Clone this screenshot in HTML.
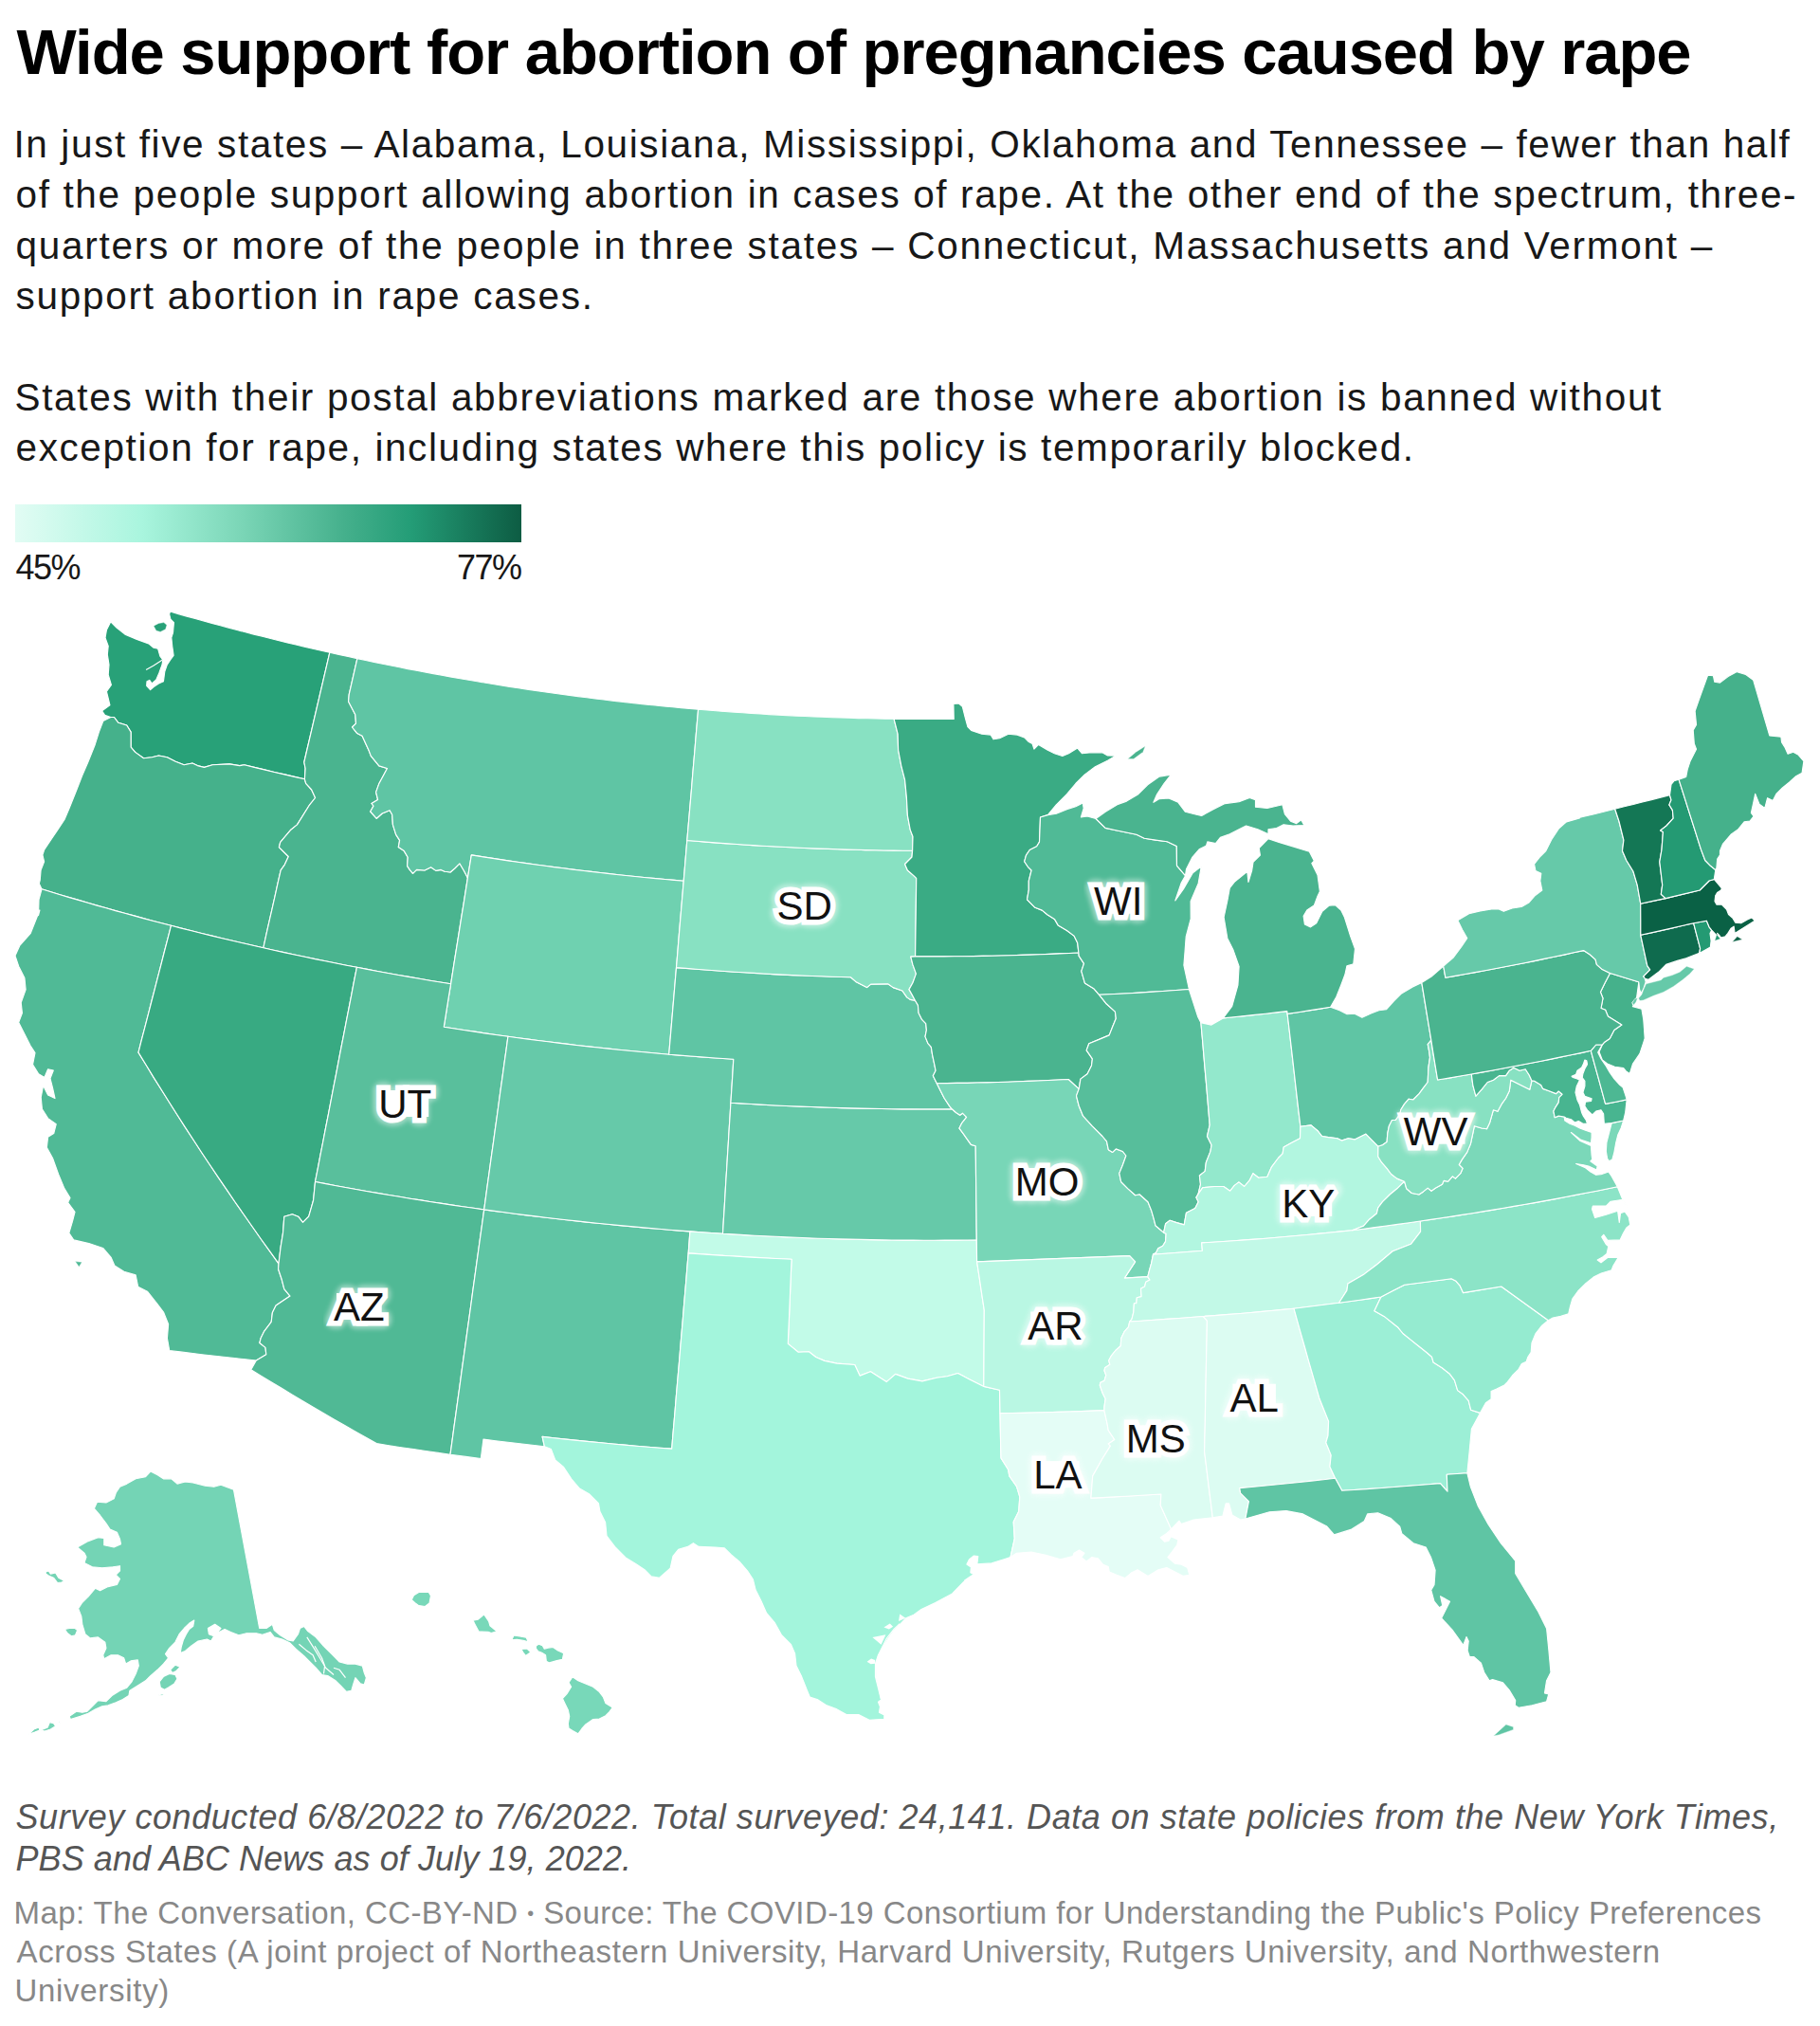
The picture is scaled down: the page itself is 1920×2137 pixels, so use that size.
<!DOCTYPE html>
<html lang="en"><head><meta charset="utf-8"><title>Wide support for abortion of pregnancies caused by rape</title>
<style>
html,body{margin:0;padding:0;background:#fff;}
body{width:1920px;height:2137px;position:relative;overflow:hidden;font-family:"Liberation Sans",Arial,sans-serif;color:#181818;}
.ln{position:absolute;left:16px;white-space:nowrap;margin:0;padding:0;font-weight:normal;}
.t{font-weight:bold;color:#000;}
.d{color:#181818;}
.l{color:#181818;}
.n{font-style:italic;color:#555;}
.f{color:#888;}

.lg{position:absolute;left:16px;top:532px;width:534px;height:40px;background:linear-gradient(90deg,#e2fcf4 0%,#a9f5de 25%,#7ad5b6 45%,#45b08c 65%,#249d77 78%,#0d5c43 100%);}
#map{position:absolute;left:0;top:0;}
.lab{font-family:"Liberation Sans",Arial,sans-serif;font-size:42px;fill:#111;text-anchor:middle;}
.halo{stroke:#fff;stroke-width:11px;stroke-linejoin:miter;stroke-miterlimit:2;fill:#fff;}
.glow{stroke:#fff;stroke-width:17px;stroke-linejoin:round;fill:#fff;opacity:.45;}
</style></head><body>
<h1 class="ln t" id="t" style="top:14.9px;left:17.5px;font-size:67px;line-height:80px;letter-spacing:-1.046px">Wide support for abortion of pregnancies caused by rape</h1>
<p class="ln d" id="d1" style="top:127.9px;left:14.5px;font-size:40.5px;line-height:49px;letter-spacing:1.615px">In just five states – Alabama, Louisiana, Mississippi, Oklahoma and Tennessee – fewer than half</p>
<p class="ln d" id="d2" style="top:181.3px;left:16.5px;font-size:40.5px;line-height:49px;letter-spacing:1.629px">of the people support allowing abortion in cases of rape. At the other end of the spectrum, three-</p>
<p class="ln d" id="d3" style="top:234.7px;left:16.5px;font-size:40.5px;line-height:49px;letter-spacing:1.739px">quarters or more of the people in three states – Connecticut, Massachusetts and Vermont –</p>
<p class="ln d" id="d4" style="top:288.1px;left:16.5px;font-size:40.5px;line-height:49px;letter-spacing:1.750px">support abortion in rape cases.</p>
<p class="ln d" id="d5" style="top:394.9px;left:15.5px;font-size:40.5px;line-height:49px;letter-spacing:1.669px">States with their postal abbreviations marked are those where abortion is banned without</p>
<p class="ln d" id="d6" style="top:448.3px;left:16.5px;font-size:40.5px;line-height:49px;letter-spacing:1.609px">exception for rape, including states where this policy is temporarily blocked.</p>
<span class="ln l" id="l1" style="top:576.7px;left:16.5px;font-size:36px;line-height:43px;letter-spacing:-1.500px">45%</span>
<span class="ln l" id="l2" style="top:576.7px;left:482.0px;font-size:36px;line-height:43px;letter-spacing:-1.500px">77%</span>
<div class="lg"></div>
<svg id="map" width="1920" height="2137" viewBox="0 0 1920 2137">
<g stroke="#fff" stroke-width="1.15" stroke-linejoin="round">
<path id="WA" fill="#28a178" d="M116.8,756.5L110.6,754.4L107.6,749.9L115.9,743.7L114.2,736.6L112.4,729.5L117.4,722.4L114.2,711.7L115.0,701.1L113.3,690.4L114.2,681.5L111.0,672.6L112.4,664.6L116.8,655.8L123.0,662.0L131.9,669.1L144.4,674.4L156.8,678.9L162.1,683.3L166.6,684.2L168.9,692.2L171.9,696.1L171.0,701.1L167.8,709.9L164.8,717.0L160.3,721.0L157.7,717.4L155.0,718.8L154.7,723.3L158.6,727.7L162.1,724.5L167.4,721.0L172.4,718.8L173.8,708.2L176.3,701.1L179.9,695.7L183.1,691.3L181.7,681.5L180.8,672.6L182.5,667.3L183.4,656.6L179.9,653.1L178.6,647.8L179.5,645.0L188.3,647.6L197.1,650.1L205.9,652.5L214.8,655.0L223.6,657.4L232.4,659.8L241.2,662.1L250.1,664.5L258.9,666.8L267.8,669.1L276.7,671.3L285.5,673.5L294.4,675.7L303.3,677.9L312.2,680.0L321.1,682.1L330.0,684.2L338.9,686.2L347.8,688.3L320.8,804.0L322.1,810.5L321.4,821.8L310.7,819.4L300.1,816.9L289.5,814.5L278.9,811.9L268.3,809.4L257.7,806.8L252.7,807.6L242.1,805.9L224.3,806.8L215.4,809.4L208.3,807.6L203.0,805.0L194.1,806.8L185.2,803.2L176.3,798.8L167.4,797.0L160.3,798.8L151.5,799.7L142.6,793.4L138.1,788.1L138.1,772.1L133.7,765.0L124.8,762.3L120.4,756.5L116.8,756.5Z"/>
<path id="OR" fill="#45b18b" d="M116.8,756.5L120.4,756.5L124.8,762.3L133.7,765.0L138.1,772.1L138.1,788.1L142.6,793.4L151.5,799.7L160.3,798.8L167.4,797.0L176.3,798.8L185.2,803.2L194.1,806.8L203.0,805.0L208.3,807.6L215.4,809.4L224.3,806.8L242.1,805.9L252.7,807.6L257.7,806.8L268.3,809.4L278.9,811.9L289.5,814.5L300.1,816.9L310.7,819.4L321.4,821.8L322.7,826.4L328.7,833.0L332.6,841.5L326.7,848.8L313.5,869.9L306.9,875.2L295.7,888.4L294.4,893.6L304.3,903.5L300.3,912.1L296.2,917.8L293.1,931.4L290.1,945.1L287.0,958.8L283.9,972.4L280.8,986.1L277.8,999.8L266.9,997.3L256.1,994.8L245.3,992.3L234.4,989.7L223.6,987.1L212.8,984.5L202.1,981.8L191.3,979.1L180.5,976.3L170.7,973.7L160.9,971.2L151.1,968.6L141.3,965.9L131.6,963.3L121.8,960.6L112.0,957.8L102.3,955.1L92.6,952.3L82.8,949.4L73.1,946.6L63.4,943.7L53.7,940.8L44.0,937.8L41.3,932.0L42.2,928.4L43.1,917.8L46.6,908.9L44.9,901.8L46.6,896.5L53.8,885.8L60.9,875.2L68.0,864.5L73.3,852.1L80.4,834.3L86.6,818.3L92.8,804.1L99.9,786.3L104.4,772.1L108.8,760.6L116.8,756.5Z"/>
<path id="ID" fill="#4ab48f" d="M321.4,821.8L322.1,810.5L320.8,804.0L347.8,688.3L357.5,690.4L367.2,692.5L376.9,694.6L368.2,732.7L367.6,740.0L374.8,753.8L375.5,763.1L371.5,767.0L376.8,773.6L382.1,776.3L389.3,792.1L391.3,797.4L399.9,807.9L408.5,810.5L399.9,826.4L396.6,835.6L398.6,843.5L392.0,847.5L394.0,850.1L390.7,856.0L397.3,863.3L403.2,858.0L411.1,854.7L413.7,859.3L414.4,869.9L417.7,880.4L421.6,886.4L420.3,893.6L426.3,897.6L430.2,904.2L429.6,913.4L432.2,917.4L435.5,921.3L439.5,917.4L448.0,918.0L454.6,914.7L459.9,918.4L465.2,917.4L469.1,919.3L475.1,920.0L479.7,916.0L484.9,910.8L489.6,918.7L493.4,925.9L491.2,939.8L489.0,953.8L486.7,967.8L484.5,981.8L482.3,995.7L480.0,1009.8L477.8,1023.8L475.6,1037.8L464.5,1036.0L453.5,1034.2L442.4,1032.3L431.4,1030.4L420.4,1028.5L409.4,1026.5L398.4,1024.5L387.4,1022.4L376.4,1020.3L365.4,1018.2L354.4,1016.0L343.4,1013.8L332.5,1011.6L321.5,1009.3L310.6,1007.0L299.6,1004.6L288.7,1002.2L277.8,999.8L280.8,986.1L283.9,972.4L287.0,958.8L290.1,945.1L293.1,931.4L296.2,917.8L300.3,912.1L304.3,903.5L294.4,893.6L295.7,888.4L306.9,875.2L313.5,869.9L326.7,848.8L332.6,841.5L328.7,833.0L322.7,826.4L321.4,821.8Z"/>
<path id="MT" fill="#5fc5a4" d="M376.9,694.6L385.8,696.5L394.7,698.4L403.6,700.2L412.5,702.0L421.4,703.8L430.3,705.6L439.3,707.3L448.2,709.0L457.2,710.6L466.1,712.3L475.1,713.9L484.0,715.5L493.0,717.0L502.0,718.5L510.9,720.0L519.9,721.5L528.9,722.9L537.9,724.4L546.9,725.7L555.9,727.1L564.9,728.4L573.9,729.7L582.9,731.0L591.9,732.2L600.9,733.4L609.9,734.6L619.0,735.8L628.0,736.9L637.0,738.0L646.1,739.1L655.1,740.1L664.1,741.1L673.2,742.1L682.2,743.1L691.3,744.0L700.3,744.9L709.4,745.8L718.5,746.6L727.5,747.4L736.6,748.2L735.4,762.0L734.2,775.7L733.1,789.5L731.9,803.3L730.7,817.2L729.6,831.0L728.4,844.9L727.2,858.7L726.0,872.6L724.8,886.5L723.6,900.7L722.4,915.0L721.2,929.3L711.4,928.4L701.7,927.5L691.9,926.6L682.1,925.7L672.4,924.7L662.6,923.7L652.8,922.7L643.1,921.6L633.3,920.5L623.6,919.4L613.9,918.2L604.1,917.1L594.4,915.8L584.6,914.6L574.9,913.3L565.2,912.0L555.5,910.6L545.8,909.3L536.0,907.9L526.3,906.4L516.6,904.9L506.9,903.4L497.3,901.9L493.4,925.9L489.6,918.7L484.9,910.8L479.7,916.0L475.1,920.0L469.1,919.3L465.2,917.4L459.9,918.4L454.6,914.7L448.0,918.0L439.5,917.4L435.5,921.3L432.2,917.4L429.6,913.4L430.2,904.2L426.3,897.6L420.3,893.6L421.6,886.4L417.7,880.4L414.4,869.9L413.7,859.3L411.1,854.7L403.2,858.0L397.3,863.3L390.7,856.0L394.0,850.1L392.0,847.5L398.6,843.5L396.6,835.6L399.9,826.4L408.5,810.5L399.9,807.9L391.3,797.4L389.3,792.1L382.1,776.3L376.8,773.6L371.5,767.0L375.5,763.1L374.8,753.8L367.6,740.0L368.2,732.7L376.9,694.6Z"/>
<path id="WY" fill="#6fd1b0" d="M493.4,925.9L497.3,901.9L506.9,903.4L516.6,904.9L526.3,906.4L536.0,907.9L545.8,909.3L555.5,910.6L565.2,912.0L574.9,913.3L584.6,914.6L594.4,915.8L604.1,917.1L613.9,918.2L623.6,919.4L633.3,920.5L643.1,921.6L652.8,922.7L662.6,923.7L672.4,924.7L682.1,925.7L691.9,926.6L701.7,927.5L711.4,928.4L721.2,929.3L719.9,944.5L718.6,959.7L717.3,974.9L716.0,990.1L714.8,1005.3L713.5,1020.6L712.2,1035.8L710.9,1051.1L709.6,1066.4L708.3,1081.6L707.0,1096.9L705.7,1112.2L695.0,1111.3L684.4,1110.3L673.8,1109.3L663.1,1108.3L652.5,1107.2L641.9,1106.1L631.3,1105.0L620.7,1103.9L610.1,1102.7L599.4,1101.4L588.8,1100.1L578.2,1098.8L567.7,1097.5L557.1,1096.1L546.5,1094.7L535.9,1093.3L524.6,1091.7L513.3,1090.1L502.1,1088.4L490.8,1086.7L479.6,1085.0L468.3,1083.2L470.7,1068.1L473.1,1052.9L475.6,1037.8L477.8,1023.8L480.0,1009.8L482.3,995.7L484.5,981.8L486.7,967.8L489.0,953.8L491.2,939.8L493.4,925.9Z"/>
<path id="CA" fill="#50ba96" d="M44.0,937.8L53.7,940.8L63.4,943.7L73.1,946.6L82.8,949.4L92.6,952.3L102.3,955.1L112.0,957.8L121.8,960.6L131.6,963.3L141.3,965.9L151.1,968.6L160.9,971.2L170.7,973.7L180.5,976.3L177.1,989.7L173.6,1003.0L170.2,1016.4L166.7,1029.8L163.3,1043.1L159.8,1056.5L156.4,1069.9L152.9,1083.3L149.4,1096.7L146.0,1110.1L154.1,1123.3L162.2,1136.6L170.5,1149.8L178.8,1163.0L187.2,1176.2L195.6,1189.4L204.2,1202.5L212.8,1215.7L221.5,1228.8L230.3,1241.9L239.2,1254.9L248.1,1268.0L257.2,1281.0L266.3,1294.0L275.4,1307.0L284.7,1319.9L294.0,1332.8L293.6,1338.7L297.3,1349.8L299.8,1359.7L306.0,1367.1L298.5,1372.0L291.1,1377.0L287.4,1384.4L286.2,1394.3L278.8,1404.1L275.1,1411.5L273.9,1416.5L280.0,1421.4L280.8,1428.8L270.3,1435.0L258.8,1433.8L247.4,1432.6L235.9,1431.3L224.5,1430.0L213.0,1428.7L201.6,1427.3L190.1,1425.9L178.7,1424.5L176.4,1411.5L177.6,1396.7L172.7,1384.4L165.3,1374.5L155.4,1362.2L145.6,1357.2L143.1,1344.9L130.8,1341.2L120.9,1335.0L117.2,1326.4L108.6,1316.5L93.8,1311.6L77.7,1307.9L72.8,1300.5L76.5,1288.2L79.0,1278.3L71.6,1268.4L74.0,1263.5L67.9,1253.6L61.7,1238.8L55.5,1221.5L49.3,1210.4L50.6,1199.3L56.7,1195.6L59.2,1185.8L50.6,1179.6L44.4,1169.7L43.2,1157.4L45.6,1145.1L50.6,1154.9L58.0,1158.6L55.5,1147.5L53.0,1137.6L56.3,1129.0L50.6,1127.8L46.9,1136.4L40.7,1132.7L34.5,1122.8L37.0,1110.5L32.1,1103.1L25.9,1090.8L19.7,1078.4L23.4,1068.6L22.2,1057.5L27.1,1043.9L25.9,1031.6L19.7,1019.2L16.0,1008.1L21.0,997.0L32.1,984.7L41.9,960.0L40.5,965.6L41.0,948.9L44.0,937.8Z"/>
<path id="NV" fill="#38aa82" d="M180.5,976.3L191.3,979.1L202.1,981.8L212.8,984.5L223.6,987.1L234.4,989.7L245.3,992.3L256.1,994.8L266.9,997.3L277.8,999.8L288.7,1002.2L299.6,1004.6L310.6,1007.0L321.5,1009.3L332.5,1011.6L343.4,1013.8L354.4,1016.0L365.4,1018.2L376.4,1020.3L373.6,1034.4L370.9,1048.6L368.2,1062.7L365.4,1076.8L362.7,1090.9L359.9,1105.1L357.2,1119.2L354.5,1133.3L351.7,1147.5L349.0,1161.6L346.3,1175.8L343.5,1189.9L340.8,1204.0L338.0,1218.2L335.3,1232.3L332.5,1246.5L330.6,1266.0L325.7,1283.2L319.5,1289.4L314.6,1283.2L308.4,1280.8L299.8,1283.2L298.5,1300.5L296.1,1315.3L294.0,1332.8L284.7,1319.9L275.4,1307.0L266.3,1294.0L257.2,1281.0L248.1,1268.0L239.2,1254.9L230.3,1241.9L221.5,1228.8L212.8,1215.7L204.2,1202.5L195.6,1189.4L187.2,1176.2L178.8,1163.0L170.5,1149.8L162.2,1136.6L154.1,1123.3L146.0,1110.1L149.4,1096.7L152.9,1083.3L156.4,1069.9L159.8,1056.5L163.3,1043.1L166.7,1029.8L170.2,1016.4L173.6,1003.0L177.1,989.7L180.5,976.3Z"/>
<path id="UT" fill="#59bf9c" d="M376.4,1020.3L387.4,1022.4L398.4,1024.5L409.4,1026.5L420.4,1028.5L431.4,1030.4L442.4,1032.3L453.5,1034.2L464.5,1036.0L475.6,1037.8L473.1,1052.9L470.7,1068.1L468.3,1083.2L479.6,1085.0L490.8,1086.7L502.1,1088.4L513.3,1090.1L524.6,1091.7L535.9,1093.3L534.0,1107.3L532.0,1121.3L530.1,1135.4L528.1,1149.4L526.2,1163.5L524.3,1177.5L522.3,1191.6L520.4,1205.6L518.4,1219.7L516.5,1233.7L514.5,1247.8L512.6,1261.8L510.7,1275.9L499.5,1274.3L488.3,1272.7L477.2,1271.1L466.0,1269.4L454.8,1267.7L443.7,1265.9L432.5,1264.2L421.4,1262.3L410.3,1260.5L399.2,1258.6L388.0,1256.7L376.9,1254.7L365.8,1252.7L354.7,1250.7L343.6,1248.6L332.5,1246.5L335.3,1232.3L338.0,1218.2L340.8,1204.0L343.5,1189.9L346.3,1175.8L349.0,1161.6L351.7,1147.5L354.5,1133.3L357.2,1119.2L359.9,1105.1L362.7,1090.9L365.4,1076.8L368.2,1062.7L370.9,1048.6L373.6,1034.4L376.4,1020.3Z"/>
<path id="AZ" fill="#50b995" d="M332.5,1246.5L343.6,1248.6L354.7,1250.7L365.8,1252.7L376.9,1254.7L388.0,1256.7L399.2,1258.6L410.3,1260.5L421.4,1262.3L432.5,1264.2L443.7,1265.9L454.8,1267.7L466.0,1269.4L477.2,1271.1L488.3,1272.7L499.5,1274.3L510.7,1275.9L508.7,1290.3L506.7,1304.6L504.7,1319.0L502.7,1333.4L500.7,1347.8L498.7,1362.1L496.8,1376.5L494.8,1390.9L492.8,1405.2L490.8,1419.6L488.8,1433.9L486.8,1448.3L484.9,1462.6L482.9,1476.9L480.9,1491.3L478.9,1505.6L477.0,1519.9L475.0,1534.2L462.0,1532.4L449.1,1530.5L436.1,1528.6L423.2,1526.7L410.3,1524.7L397.3,1522.6L386.1,1516.3L374.9,1510.0L363.7,1503.6L352.6,1497.2L341.5,1490.8L330.4,1484.3L319.4,1477.8L308.4,1471.2L297.5,1464.6L286.5,1458.0L275.7,1451.4L264.8,1444.7L270.3,1435.0L280.8,1428.8L280.0,1421.4L273.9,1416.5L275.1,1411.5L278.8,1404.1L286.2,1394.3L287.4,1384.4L291.1,1377.0L298.5,1372.0L306.0,1367.1L299.8,1359.7L297.3,1349.8L293.6,1338.7L294.0,1332.8L296.1,1315.3L298.5,1300.5L299.8,1283.2L308.4,1280.8L314.6,1283.2L319.5,1289.4L325.7,1283.2L330.6,1266.0L332.5,1246.5Z"/>
<path id="NM" fill="#5fc5a4" d="M510.7,1275.9L521.5,1277.4L532.3,1278.8L543.1,1280.2L554.0,1281.6L564.8,1282.9L575.7,1284.2L586.5,1285.5L597.4,1286.7L608.2,1287.9L619.1,1289.1L630.0,1290.2L640.8,1291.3L651.7,1292.4L662.6,1293.4L673.5,1294.4L684.3,1295.4L695.2,1296.3L706.1,1297.2L717.0,1298.1L727.9,1298.9L726.2,1321.9L725.0,1335.6L723.9,1349.4L722.7,1363.2L721.5,1377.0L720.4,1390.7L719.2,1404.5L718.0,1418.2L716.9,1432.0L715.7,1445.7L714.5,1459.5L713.3,1473.2L712.2,1487.0L711.0,1500.7L709.8,1514.4L708.7,1528.1L696.2,1527.2L683.8,1526.2L671.4,1525.2L658.9,1524.1L646.5,1523.0L634.1,1521.8L621.7,1520.6L609.3,1519.4L596.9,1518.1L584.5,1516.8L572.1,1515.4L574.4,1525.8L561.5,1524.3L548.6,1522.8L535.7,1521.3L522.8,1519.7L510.0,1518.1L507.3,1538.5L491.1,1536.4L475.0,1534.2L477.0,1519.9L478.9,1505.6L480.9,1491.3L482.9,1476.9L484.9,1462.6L486.8,1448.3L488.8,1433.9L490.8,1419.6L492.8,1405.2L494.8,1390.9L496.8,1376.5L498.7,1362.1L500.7,1347.8L502.7,1333.4L504.7,1319.0L506.7,1304.6L508.7,1290.3L510.7,1275.9Z"/>
<path id="CO" fill="#66c9a9" d="M535.9,1093.3L546.5,1094.7L557.1,1096.1L567.7,1097.5L578.2,1098.8L588.8,1100.1L599.4,1101.4L610.1,1102.7L620.7,1103.9L631.3,1105.0L641.9,1106.1L652.5,1107.2L663.1,1108.3L673.8,1109.3L684.4,1110.3L695.0,1111.3L705.7,1112.2L717.0,1113.1L728.4,1114.0L739.7,1114.9L751.1,1115.7L762.5,1116.5L773.8,1117.3L772.9,1132.6L771.9,1147.9L770.9,1163.2L770.1,1177.0L769.2,1190.8L768.4,1204.6L767.5,1218.4L766.7,1232.2L765.8,1246.0L765.0,1259.8L764.2,1273.6L763.3,1287.4L762.5,1301.3L750.9,1300.5L739.4,1299.7L727.9,1298.9L717.0,1298.1L706.1,1297.2L695.2,1296.3L684.3,1295.4L673.5,1294.4L662.6,1293.4L651.7,1292.4L640.8,1291.3L630.0,1290.2L619.1,1289.1L608.2,1287.9L597.4,1286.7L586.5,1285.5L575.7,1284.2L564.8,1282.9L554.0,1281.6L543.1,1280.2L532.3,1278.8L521.5,1277.4L510.7,1275.9L512.6,1261.8L514.5,1247.8L516.5,1233.7L518.4,1219.7L520.4,1205.6L522.3,1191.6L524.3,1177.5L526.2,1163.5L528.1,1149.4L530.1,1135.4L532.0,1121.3L534.0,1107.3L535.9,1093.3Z"/>
<path id="OK" fill="#c2fbe8" d="M727.9,1298.9L739.4,1299.7L750.9,1300.5L762.5,1301.3L773.6,1301.9L784.8,1302.6L795.9,1303.2L807.1,1303.8L818.2,1304.3L829.4,1304.9L840.5,1305.3L851.7,1305.8L862.8,1306.2L874.0,1306.5L885.1,1306.9L896.3,1307.1L907.5,1307.4L918.6,1307.6L929.8,1307.8L941.0,1308.0L952.1,1308.1L963.3,1308.1L974.4,1308.2L985.6,1308.2L996.8,1308.1L1007.9,1308.1L1019.1,1308.0L1030.3,1307.8L1030.6,1330.9L1033.2,1347.9L1035.7,1364.9L1038.3,1381.9L1038.2,1398.0L1038.1,1414.1L1038.0,1430.2L1037.9,1446.3L1037.8,1462.4L1021.8,1454.4L1010.5,1448.5L999.2,1451.8L988.0,1453.2L972.9,1456.9L957.8,1454.1L944.7,1449.4L935.2,1457.6L918.4,1446.7L907.1,1451.1L901.7,1439.5L883.0,1438.1L869.9,1435.4L860.7,1431.5L853.4,1425.7L842.2,1426.2L831.3,1417.4L831.9,1402.6L832.6,1387.7L833.2,1372.8L833.8,1357.9L834.4,1343.1L835.1,1328.2L824.2,1327.7L813.3,1327.2L802.4,1326.6L791.5,1326.1L780.6,1325.4L769.7,1324.8L758.8,1324.1L747.9,1323.4L737.1,1322.6L726.2,1321.9L727.9,1298.9Z"/>
<path id="TX" fill="#a3f5dc" d="M726.2,1321.9L737.1,1322.6L747.9,1323.4L758.8,1324.1L769.7,1324.8L780.6,1325.4L791.5,1326.1L802.4,1326.6L813.3,1327.2L824.2,1327.7L835.1,1328.2L834.4,1343.1L833.8,1357.9L833.2,1372.8L832.6,1387.7L831.9,1402.6L831.3,1417.4L842.2,1426.2L853.4,1425.7L860.7,1431.5L869.9,1435.4L883.0,1438.1L901.7,1439.5L907.1,1451.1L918.4,1446.7L935.2,1457.6L944.7,1449.4L957.8,1454.1L972.9,1456.9L988.0,1453.2L999.2,1451.8L1010.5,1448.5L1021.8,1454.4L1037.8,1462.4L1054.5,1466.3L1055.0,1490.6L1055.3,1506.4L1055.6,1522.2L1056.0,1537.9L1063.7,1550.3L1064.8,1556.9L1072.5,1567.9L1075.8,1578.9L1074.7,1594.3L1069.2,1605.3L1070.3,1622.9L1066.0,1642.5L1060.0,1644.5L1046.2,1648.9L1030.8,1649.9L1031.8,1641.5L1027.4,1641.0L1022.4,1644.9L1019.9,1649.9L1024.4,1652.9L1023.9,1658.8L1027.4,1660.8L1016.5,1668.7L1004.6,1681.0L986.8,1690.4L972.0,1697.4L964.1,1703.3L955.7,1706.8L949.2,1713.7L943.3,1719.6L937.4,1727.5L931.4,1737.4L926.5,1747.3L924.5,1753.7L924.2,1768.6L926.7,1778.5L929.7,1792.8L926.5,1795.3L928.5,1800.2L927.5,1806.2L932.9,1809.1L932.8,1813.3L917.1,1814.3L905.7,1808.6L892.9,1808.6L882.9,1802.9L871.4,1798.6L862.9,1792.9L854.3,1790.0L851.4,1782.9L845.7,1768.6L840.0,1757.1L838.6,1744.3L834.3,1734.3L824.3,1724.3L817.1,1711.4L808.6,1701.4L802.9,1688.6L797.1,1677.1L794.3,1665.7L788.6,1657.1L780.0,1647.1L771.4,1640.0L764.3,1632.9L754.3,1632.0L737.1,1631.4L731.4,1627.7L725.7,1631.4L715.7,1634.3L710.0,1641.4L707.1,1654.3L695.7,1664.3L687.1,1662.9L680.0,1655.7L671.4,1650.0L660.0,1642.9L648.6,1631.4L640.0,1620.0L638.6,1605.7L632.9,1594.3L631.4,1585.7L621.4,1575.7L611.4,1570.0L602.9,1560.0L594.3,1547.1L585.7,1540.0L581.4,1528.6L574.4,1525.8L572.1,1515.4L584.5,1516.8L596.9,1518.1L609.3,1519.4L621.7,1520.6L634.1,1521.8L646.5,1523.0L658.9,1524.1L671.4,1525.2L683.8,1526.2L696.2,1527.2L708.7,1528.1L709.8,1514.4L711.0,1500.7L712.2,1487.0L713.3,1473.2L714.5,1459.5L715.7,1445.7L716.9,1432.0L718.0,1418.2L719.2,1404.5L720.4,1390.7L721.5,1377.0L722.7,1363.2L723.9,1349.4L725.0,1335.6L726.2,1321.9Z"/>
<path id="KS" fill="#66c9a9" d="M770.9,1163.2L781.5,1163.9L792.1,1164.5L802.7,1165.1L813.3,1165.7L823.9,1166.2L834.5,1166.7L845.1,1167.1L855.7,1167.5L866.3,1167.9L877.0,1168.3L887.6,1168.6L898.2,1168.9L908.8,1169.1L919.4,1169.3L930.0,1169.5L940.6,1169.7L951.3,1169.8L961.9,1169.8L972.5,1169.9L983.1,1169.9L993.7,1169.9L1004.3,1169.8L1008.5,1173.5L1012.7,1176.3L1015.4,1174.2L1019.6,1178.4L1014.7,1184.6L1012.0,1190.1L1016.1,1195.7L1021.0,1202.6L1024.4,1207.4L1029.2,1208.8L1029.2,1210.6L1029.4,1224.4L1029.5,1238.3L1029.7,1252.2L1029.8,1266.1L1030.0,1280.0L1030.1,1293.9L1030.3,1307.8L1019.1,1308.0L1007.9,1308.1L996.8,1308.1L985.6,1308.2L974.4,1308.2L963.3,1308.1L952.1,1308.1L941.0,1308.0L929.8,1307.8L918.6,1307.6L907.5,1307.4L896.3,1307.1L885.1,1306.9L874.0,1306.5L862.8,1306.2L851.7,1305.8L840.5,1305.3L829.4,1304.9L818.2,1304.3L807.1,1303.8L795.9,1303.2L784.8,1302.6L773.6,1301.9L762.5,1301.3L763.3,1287.4L764.2,1273.6L765.0,1259.8L765.8,1246.0L766.7,1232.2L767.5,1218.4L768.4,1204.6L769.2,1190.8L770.1,1177.0L770.9,1163.2Z"/>
<path id="NE" fill="#5fc5a4" d="M713.5,1020.6L723.7,1021.4L733.9,1022.2L744.1,1023.0L754.3,1023.8L764.5,1024.5L774.7,1025.2L784.9,1025.8L795.2,1026.4L805.4,1027.0L815.6,1027.6L825.8,1028.1L836.0,1028.6L846.3,1029.0L856.5,1029.5L866.7,1029.8L877.0,1030.2L887.2,1030.5L897.4,1030.8L902.8,1035.4L914.5,1041.6L918.7,1038.1L936.7,1037.8L942.2,1041.6L951.9,1045.0L956.7,1051.9L960.2,1054.4L965.4,1055.3L968.4,1060.2L969.1,1068.5L972.6,1075.4L976.7,1079.6L977.4,1086.5L976.0,1093.4L978.8,1100.3L982.3,1104.4L983.6,1112.7L985.7,1122.4L987.1,1129.3L984.3,1134.8L988.3,1142.7L991.9,1150.1L996.1,1158.3L1001.6,1166.6L1004.3,1169.8L993.7,1169.9L983.1,1169.9L972.5,1169.9L961.9,1169.8L951.3,1169.8L940.6,1169.7L930.0,1169.5L919.4,1169.3L908.8,1169.1L898.2,1168.9L887.6,1168.6L877.0,1168.3L866.3,1167.9L855.7,1167.5L845.1,1167.1L834.5,1166.7L823.9,1166.2L813.3,1165.7L802.7,1165.1L792.1,1164.5L781.5,1163.9L770.9,1163.2L771.9,1147.9L772.9,1132.6L773.8,1117.3L762.5,1116.5L751.1,1115.7L739.7,1114.9L728.4,1114.0L717.0,1113.1L705.7,1112.2L707.0,1096.9L708.3,1081.6L709.6,1066.4L710.9,1051.1L712.2,1035.8L713.5,1020.6Z"/>
<path id="SD" fill="#88e1c2" d="M724.8,886.5L734.7,887.3L744.6,888.1L754.5,888.9L764.4,889.6L774.3,890.3L784.2,891.0L794.1,891.6L804.0,892.2L813.9,892.7L823.8,893.3L833.7,893.8L843.6,894.2L853.5,894.7L863.5,895.1L873.4,895.4L883.3,895.8L893.2,896.1L903.1,896.3L913.0,896.6L923.0,896.8L932.9,897.0L942.8,897.1L952.7,897.2L962.6,897.3L962.0,904.0L954.6,911.5L957.4,918.0L963.9,923.6L966.7,926.4L965.6,1008.9L960.8,1009.1L962.9,1017.4L966.4,1027.1L962.9,1036.7L959.0,1043.6L962.9,1050.6L965.4,1055.3L960.2,1054.4L956.7,1051.9L951.9,1045.0L942.2,1041.6L936.7,1037.8L918.7,1038.1L914.5,1041.6L902.8,1035.4L897.4,1030.8L887.2,1030.5L877.0,1030.2L866.7,1029.8L856.5,1029.5L846.3,1029.0L836.0,1028.6L825.8,1028.1L815.6,1027.6L805.4,1027.0L795.2,1026.4L784.9,1025.8L774.7,1025.2L764.5,1024.5L754.3,1023.8L744.1,1023.0L733.9,1022.2L723.7,1021.4L713.5,1020.6L714.8,1005.3L716.0,990.1L717.3,974.9L718.6,959.7L719.9,944.5L721.2,929.3L722.4,915.0L723.6,900.7L724.8,886.5Z"/>
<path id="ND" fill="#88e1c2" d="M736.6,748.2L746.0,749.0L755.3,749.7L764.7,750.5L774.1,751.1L783.5,751.8L792.8,752.4L802.2,753.0L811.6,753.6L821.0,754.1L830.4,754.6L839.8,755.1L849.2,755.5L858.6,756.0L867.9,756.3L877.3,756.7L886.7,757.0L896.1,757.3L905.5,757.6L914.9,757.8L924.3,758.0L933.7,758.2L943.1,758.3L947.1,774.2L947.6,791.0L950.8,807.8L954.6,822.7L956.4,841.4L957.4,860.1L960.2,875.1L963.0,882.5L962.6,897.3L952.7,897.2L942.8,897.1L932.9,897.0L923.0,896.8L913.0,896.6L903.1,896.3L893.2,896.1L883.3,895.8L873.4,895.4L863.5,895.1L853.5,894.7L843.6,894.2L833.7,893.8L823.8,893.3L813.9,892.7L804.0,892.2L794.1,891.6L784.2,891.0L774.3,890.3L764.4,889.6L754.5,888.9L744.6,888.1L734.7,887.3L724.8,886.5L726.0,872.6L727.2,858.7L728.4,844.9L729.6,831.0L730.7,817.2L731.9,803.3L733.1,789.5L734.2,775.7L735.4,762.0L736.6,748.2Z"/>
<path id="MN" fill="#3aab84" d="M943.1,758.3L953.6,758.4L964.2,758.5L974.7,758.5L985.2,758.5L995.7,758.5L1006.2,758.4L1005.9,742.4L1011.5,742.0L1015.3,745.2L1018.1,756.4L1020.9,766.7L1024.6,770.4L1035.8,774.2L1045.2,775.1L1048.0,779.8L1054.5,778.8L1063.8,774.2L1073.2,775.1L1080.7,777.9L1085.3,782.6L1089.1,784.5L1090.9,790.1L1095.6,785.4L1104.9,791.0L1112.4,794.7L1120.8,797.5L1127.4,794.7L1136.7,789.1L1141.4,794.7L1151.6,793.8L1162.9,793.8L1168.5,797.0L1177.4,797.1L1168.5,802.2L1155.4,808.7L1144.2,817.1L1134.8,826.5L1125.5,837.7L1114.3,848.9L1105.4,859.6L1097.5,862.0L1096.5,888.1L1093.7,892.8L1086.3,896.5L1082.5,902.1L1080.7,908.7L1084.4,914.3L1088.1,918.0L1085.3,929.2L1085.3,938.6L1083.5,948.8L1091.9,957.3L1099.3,960.1L1104.9,964.7L1112.4,969.4L1116.2,975.9L1125.5,981.5L1133.0,987.1L1136.7,994.6L1137.9,1005.0L1127.8,1005.5L1117.7,1005.9L1107.5,1006.4L1097.4,1006.8L1087.3,1007.1L1077.1,1007.4L1067.0,1007.7L1056.9,1008.0L1046.7,1008.2L1036.6,1008.4L1026.4,1008.6L1016.3,1008.7L1006.2,1008.8L996.0,1008.9L985.9,1008.9L975.7,1008.9L965.6,1008.9L966.7,926.4L963.9,923.6L957.4,918.0L954.6,911.5L962.0,904.0L962.6,897.3L963.0,882.5L960.2,875.1L957.4,860.1L956.4,841.4L954.6,822.7L950.8,807.8L947.6,791.0L947.1,774.2L943.1,758.3Z"/>
<path id="IA" fill="#4ab48f" d="M965.6,1008.9L975.7,1008.9L985.9,1008.9L996.0,1008.9L1006.2,1008.8L1016.3,1008.7L1026.4,1008.6L1036.6,1008.4L1046.7,1008.2L1056.9,1008.0L1067.0,1007.7L1077.1,1007.4L1087.3,1007.1L1097.4,1006.8L1107.5,1006.4L1117.7,1005.9L1127.8,1005.5L1137.9,1005.0L1138.2,1008.4L1143.5,1016.4L1140.8,1024.4L1144.4,1036.9L1154.2,1043.1L1159.6,1049.3L1166.6,1058.2L1176.4,1067.1L1177.3,1074.2L1173.7,1083.0L1170.2,1091.9L1159.5,1096.4L1148.8,1100.8L1146.2,1107.9L1152.4,1116.8L1151.5,1123.9L1147.1,1132.8L1139.9,1138.1L1138.2,1148.6L1127.1,1138.5L1116.4,1139.0L1105.8,1139.5L1095.1,1140.0L1084.4,1140.4L1073.8,1140.8L1063.1,1141.2L1052.4,1141.5L1041.7,1141.8L1031.1,1142.0L1020.4,1142.3L1009.7,1142.4L999.0,1142.6L988.3,1142.7L984.3,1134.8L987.1,1129.3L985.7,1122.4L983.6,1112.7L982.3,1104.4L978.8,1100.3L976.0,1093.4L977.4,1086.5L976.7,1079.6L972.6,1075.4L969.1,1068.5L968.4,1060.2L965.4,1055.3L962.9,1050.6L959.0,1043.6L962.9,1036.7L966.4,1027.1L962.9,1017.4L960.8,1009.1L965.6,1008.9Z"/>
<path id="MO" fill="#78d6b7" d="M988.3,1142.7L999.0,1142.6L1009.7,1142.4L1020.4,1142.3L1031.1,1142.0L1041.7,1141.8L1052.4,1141.5L1063.1,1141.2L1073.8,1140.8L1084.4,1140.4L1095.1,1140.0L1105.8,1139.5L1116.4,1139.0L1127.1,1138.5L1138.2,1148.6L1135.5,1155.9L1138.2,1166.5L1142.6,1177.2L1152.4,1187.9L1163.0,1198.5L1167.5,1203.9L1169.3,1212.7L1173.7,1215.4L1177.3,1211.9L1184.4,1214.5L1187.9,1219.0L1184.4,1228.7L1180.8,1237.6L1182.6,1246.5L1189.7,1253.6L1197.7,1260.7L1202.1,1259.8L1211.0,1267.8L1214.6,1276.7L1217.2,1285.6L1219.0,1292.7L1225.2,1298.0L1227.6,1300.2L1230.1,1301.3L1229.5,1309.6L1226.6,1314.3L1221.8,1316.7L1219.5,1321.4L1216.5,1323.1L1214.7,1332.1L1212.4,1340.4L1210.8,1346.6L1186.3,1348.1L1197.6,1330.9L1191.6,1324.6L1030.6,1330.9L1030.3,1307.8L1030.1,1293.9L1030.0,1280.0L1029.8,1266.1L1029.7,1252.2L1029.5,1238.3L1029.4,1224.4L1029.2,1210.6L1029.2,1208.8L1024.4,1207.4L1021.0,1202.6L1016.1,1195.7L1012.0,1190.1L1014.7,1184.6L1019.6,1178.4L1015.4,1174.2L1012.7,1176.3L1008.5,1173.5L1004.3,1169.8L1001.6,1166.6L996.1,1158.3L991.9,1150.1L988.3,1142.7Z"/>
<path id="AR" fill="#b9f7e3" d="M1030.6,1330.9L1191.6,1324.6L1197.6,1330.9L1186.3,1348.1L1210.8,1346.6L1213.0,1350.1L1208.8,1352.2L1207.6,1357.0L1203.5,1359.3L1204.1,1367.6L1199.3,1368.8L1198.8,1374.7L1196.4,1374.7L1195.8,1384.2L1194.0,1391.3L1191.7,1394.0L1190.5,1399.6L1186.3,1404.3L1182.8,1411.4L1182.2,1419.7L1176.8,1424.5L1172.1,1430.4L1169.7,1435.1L1170.9,1439.3L1165.6,1442.8L1165.0,1445.8L1166.8,1450.5L1165.0,1456.4L1160.9,1458.2L1160.3,1461.2L1163.2,1469.5L1166.2,1475.4L1165.0,1483.7L1164.9,1487.6L1152.7,1488.1L1140.5,1488.6L1128.3,1489.0L1116.0,1489.4L1103.8,1489.7L1091.6,1490.0L1079.4,1490.3L1067.2,1490.5L1055.0,1490.6L1054.5,1466.3L1037.8,1462.4L1037.9,1446.3L1038.0,1430.2L1038.1,1414.1L1038.2,1398.0L1038.3,1381.9L1035.7,1364.9L1033.2,1347.9L1030.6,1330.9Z"/>
<path id="LA" fill="#e4fdf6" d="M1055.0,1490.6L1067.2,1490.5L1079.4,1490.3L1091.6,1490.0L1103.8,1489.7L1116.0,1489.4L1128.3,1489.0L1140.5,1488.6L1152.7,1488.1L1164.9,1487.6L1168.1,1502.0L1169.2,1508.6L1175.8,1518.5L1169.2,1522.9L1171.4,1525.1L1162.6,1539.3L1152.7,1556.9L1150.9,1580.1L1163.2,1579.6L1175.5,1578.9L1187.9,1578.3L1200.2,1577.5L1212.5,1576.8L1224.9,1576.0L1224.2,1587.7L1235.6,1612.9L1230.8,1617.4L1224.2,1621.8L1228.6,1626.2L1233.0,1625.1L1235.2,1620.7L1242.9,1624.0L1241.8,1629.5L1236.3,1637.1L1231.9,1642.6L1239.6,1649.2L1246.2,1650.3L1252.7,1653.6L1254.9,1661.3L1248.4,1662.4L1239.6,1658.0L1230.8,1653.6L1222.0,1655.8L1211.0,1662.4L1200.0,1655.8L1193.4,1659.1L1186.8,1664.6L1178.0,1661.3L1170.3,1658.0L1169.2,1652.5L1163.7,1650.3L1158.2,1643.7L1151.6,1642.6L1146.2,1647.0L1140.7,1642.6L1144.0,1638.2L1138.5,1634.9L1133.0,1638.2L1131.9,1641.5L1118.7,1644.8L1103.3,1640.4L1087.9,1637.1L1072.5,1638.2L1066.0,1642.5L1070.3,1622.9L1069.2,1605.3L1074.7,1594.3L1075.8,1578.9L1072.5,1567.9L1064.8,1556.9L1063.7,1550.3L1056.0,1537.9L1055.6,1522.2L1055.3,1506.4L1055.0,1490.6Z"/>
<path id="WI" fill="#50ba96" d="M1105.4,859.6L1114.3,858.2L1125.5,853.6L1134.8,850.8L1142.3,847.0L1143.2,852.6L1140.4,862.0L1147.0,861.0L1156.0,863.5L1166.1,873.4L1177.0,875.7L1188.0,878.0L1198.9,880.3L1207.2,884.2L1219.2,886.1L1231.3,887.8L1241.3,892.5L1241.5,913.1L1250.5,923.7L1246.3,931.0L1239.8,949.9L1248.5,937.7L1258.3,920.7L1267.3,913.9L1264.2,931.7L1256.1,950.8L1256.2,969.2L1251.2,988.0L1250.1,1003.1L1248.9,1018.1L1254.4,1043.5L1243.9,1044.3L1233.3,1045.0L1222.8,1045.8L1212.3,1046.4L1201.7,1047.1L1191.2,1047.7L1180.7,1048.3L1170.1,1048.8L1159.6,1049.3L1154.2,1043.1L1144.4,1036.9L1140.8,1024.4L1143.5,1016.4L1138.2,1008.4L1137.9,1005.0L1136.7,994.6L1133.0,987.1L1125.5,981.5L1116.2,975.9L1112.4,969.4L1104.9,964.7L1099.3,960.1L1091.9,957.3L1083.5,948.8L1085.3,938.6L1085.3,929.2L1088.1,918.0L1084.4,914.3L1080.7,908.7L1082.5,902.1L1086.3,896.5L1093.7,892.8L1096.5,888.1L1097.5,862.0L1105.4,859.6Z"/>
<path id="IL" fill="#57be9b" d="M1159.6,1049.3L1170.1,1048.8L1180.7,1048.3L1191.2,1047.7L1201.7,1047.1L1212.3,1046.4L1222.8,1045.8L1233.3,1045.0L1243.9,1044.3L1254.4,1043.5L1259.0,1057.8L1263.6,1072.2L1266.9,1078.8L1268.3,1094.2L1269.6,1109.6L1270.9,1125.0L1272.3,1140.4L1273.6,1155.8L1274.9,1171.2L1276.2,1186.7L1273.5,1198.5L1278.1,1207.7L1276.9,1214.6L1272.3,1226.2L1271.2,1235.4L1265.4,1240.0L1266.5,1249.2L1264.1,1259.4L1261.9,1263.1L1264.2,1267.7L1260.8,1274.6L1251.5,1279.2L1249.2,1291.9L1241.2,1289.6L1234.2,1287.3L1229.6,1290.8L1227.6,1300.2L1225.2,1298.0L1219.0,1292.7L1217.2,1285.6L1214.6,1276.7L1211.0,1267.8L1202.1,1259.8L1197.7,1260.7L1189.7,1253.6L1182.6,1246.5L1180.8,1237.6L1184.4,1228.7L1187.9,1219.0L1184.4,1214.5L1177.3,1211.9L1173.7,1215.4L1169.3,1212.7L1167.5,1203.9L1163.0,1198.5L1152.4,1187.9L1142.6,1177.2L1138.2,1166.5L1135.5,1155.9L1138.2,1148.6L1139.9,1138.1L1147.1,1132.8L1151.5,1123.9L1152.4,1116.8L1146.2,1107.9L1148.8,1100.8L1159.5,1096.4L1170.2,1091.9L1173.7,1083.0L1177.3,1074.2L1176.4,1067.1L1166.6,1058.2L1159.6,1049.3Z"/>
<path id="IN" fill="#93e8cc" d="M1266.9,1078.8L1278.0,1081.1L1290.3,1073.9L1301.5,1072.8L1312.8,1071.6L1324.1,1070.4L1335.3,1069.2L1346.6,1067.9L1357.8,1066.6L1358.1,1069.4L1359.9,1084.2L1361.6,1099.1L1363.3,1113.9L1365.0,1128.8L1366.7,1143.7L1368.4,1158.6L1370.1,1173.4L1371.9,1188.3L1371.5,1200.8L1362.3,1205.4L1354.2,1210.0L1353.1,1216.9L1348.5,1221.5L1341.5,1230.8L1336.9,1241.2L1327.7,1242.3L1321.9,1237.7L1318.5,1244.6L1312.7,1251.5L1306.9,1246.9L1302.3,1250.4L1297.7,1256.2L1290.8,1251.5L1281.5,1251.5L1268.8,1252.7L1264.1,1259.4L1266.5,1249.2L1265.4,1240.0L1271.2,1235.4L1272.3,1226.2L1276.9,1214.6L1278.1,1207.7L1273.5,1198.5L1276.2,1186.7L1274.9,1171.2L1273.6,1155.8L1272.3,1140.4L1270.9,1125.0L1269.6,1109.6L1268.3,1094.2L1266.9,1078.8Z"/>
<path id="OH" fill="#5fc5a4" d="M1358.1,1069.4L1369.5,1067.7L1380.9,1065.9L1392.3,1064.1L1403.6,1062.3L1413.2,1065.7L1421.1,1069.7L1429.0,1069.3L1436.9,1073.2L1446.8,1068.7L1454.7,1065.7L1462.6,1064.7L1470.5,1055.8L1478.5,1047.9L1490.3,1041.0L1499.8,1036.4L1502.3,1051.6L1504.8,1066.8L1507.3,1082.0L1509.8,1097.2L1506.2,1101.5L1507.7,1109.2L1508.5,1115.4L1506.9,1126.2L1506.2,1141.5L1501.5,1147.7L1496.9,1153.8L1490.8,1160.0L1486.2,1159.2L1481.5,1164.6L1477.7,1170.8L1476.9,1175.4L1472.3,1181.5L1468.5,1181.5L1465.4,1187.7L1463.8,1195.4L1463.1,1204.6L1458.5,1207.7L1453.9,1209.3L1447.7,1203.1L1440.8,1196.2L1436.2,1198.5L1429.2,1201.9L1422.3,1200.8L1415.4,1203.1L1410.8,1200.8L1401.5,1199.6L1394.6,1198.5L1390.0,1192.7L1383.1,1186.9L1371.9,1188.3L1370.1,1173.4L1368.4,1158.6L1366.7,1143.7L1365.0,1128.8L1363.3,1113.9L1361.6,1099.1L1359.9,1084.2L1358.1,1069.4Z"/>
<path id="MI" fill="#4ab48f" d="M1290.3,1073.9L1299.7,1061.4L1305.9,1039.2L1307.1,1019.4L1301.0,1002.1L1294.8,989.7L1291.1,967.5L1294.8,950.2L1297.3,936.6L1302.2,930.4L1309.6,924.2L1315.8,919.3L1317.0,930.4L1320.7,918.0L1322.0,909.4L1329.4,902.0L1328.2,894.5L1338.0,884.6L1349.2,888.4L1361.5,892.1L1381.3,898.2L1386.3,908.1L1383.8,910.6L1390.0,923.0L1392.4,940.3L1390.0,945.2L1386.3,955.1L1378.8,960.1L1375.1,966.2L1376.4,974.9L1382.6,977.9L1388.7,973.7L1394.9,961.3L1402.3,955.1L1408.5,954.6L1414.7,960.1L1418.4,967.5L1424.6,987.3L1429.5,1000.9L1427.8,1016.9L1420.9,1018.9L1418.9,1028.0L1414.7,1039.2L1409.8,1051.5L1403.6,1062.3L1392.3,1064.1L1380.9,1065.9L1369.5,1067.7L1358.1,1069.4L1357.8,1066.6L1346.6,1067.9L1335.3,1069.2L1324.1,1070.4L1312.8,1071.6L1301.5,1072.8L1290.3,1073.9ZM1250.5,923.7L1251.5,916.8L1257.7,904.4L1265.1,895.8L1272.5,892.1L1273.8,887.9L1282.4,889.6L1287.4,883.4L1297.3,879.7L1307.1,874.8L1314.6,871.0L1326.9,874.8L1338.0,879.7L1338.0,874.8L1346.7,873.5L1354.1,869.8L1364.0,871.0L1375.9,870.5L1372.7,864.9L1367.7,868.6L1361.5,866.1L1355.4,858.7L1352.9,848.8L1336.8,852.5L1324.5,851.3L1324.5,843.8L1318.3,841.4L1307.1,845.8L1292.3,847.6L1279.9,853.7L1267.6,860.4L1260.2,858.7L1250.3,856.2L1242.9,846.3L1233.0,841.9L1223.1,842.6L1216.9,846.3L1220.6,837.7L1228.0,826.5L1235.4,817.1L1223.1,819.1L1210.7,827.8L1200.8,837.7L1188.5,845.1L1178.6,848.8L1166.2,856.2L1156.0,863.5L1166.1,873.4L1177.0,875.7L1188.0,878.0L1198.9,880.3L1207.2,884.2L1219.2,886.1L1231.3,887.8L1241.3,892.5L1241.5,913.1L1250.5,923.7Z"/>
<path id="KY" fill="#b2f6e0" d="M1371.9,1188.3L1383.1,1186.9L1390.0,1192.7L1394.6,1198.5L1401.5,1199.6L1410.8,1200.8L1415.4,1203.1L1422.3,1200.8L1429.2,1201.9L1436.2,1198.5L1440.8,1196.2L1447.7,1203.1L1453.9,1209.3L1453.8,1220.0L1457.7,1226.2L1463.1,1232.3L1467.7,1238.5L1473.8,1243.1L1481.6,1246.2L1473.8,1253.8L1466.2,1260.0L1458.5,1267.7L1453.8,1273.8L1452.3,1280.0L1444.6,1286.2L1438.5,1293.1L1426.5,1297.7L1415.1,1298.9L1403.8,1300.0L1392.5,1301.1L1381.2,1302.2L1369.9,1303.3L1358.5,1304.3L1347.2,1305.3L1335.9,1306.2L1324.5,1307.1L1313.2,1307.9L1301.8,1308.7L1290.4,1309.5L1279.1,1310.2L1267.7,1310.9L1268.4,1319.2L1255.4,1320.3L1242.5,1321.3L1229.5,1322.2L1216.5,1323.1L1219.5,1321.4L1221.8,1316.7L1226.6,1314.3L1229.5,1309.6L1230.1,1301.3L1227.6,1300.2L1229.6,1290.8L1234.2,1287.3L1241.2,1289.6L1249.2,1291.9L1251.5,1279.2L1260.8,1274.6L1264.2,1267.7L1261.9,1263.1L1264.1,1259.4L1268.8,1252.7L1281.5,1251.5L1290.8,1251.5L1297.7,1256.2L1302.3,1250.4L1306.9,1246.9L1312.7,1251.5L1318.5,1244.6L1321.9,1237.7L1327.7,1242.3L1336.9,1241.2L1341.5,1230.8L1348.5,1221.5L1353.1,1216.9L1354.2,1210.0L1362.3,1205.4L1371.5,1200.8L1371.9,1188.3Z"/>
<path id="TN" fill="#c2f9e7" d="M1216.5,1323.1L1229.5,1322.2L1242.5,1321.3L1255.4,1320.3L1268.4,1319.2L1267.7,1310.9L1279.1,1310.2L1290.4,1309.5L1301.8,1308.7L1313.2,1307.9L1324.5,1307.1L1335.9,1306.2L1347.2,1305.3L1358.5,1304.3L1369.9,1303.3L1381.2,1302.2L1392.5,1301.1L1403.8,1300.0L1415.1,1298.9L1426.5,1297.7L1438.5,1296.2L1450.5,1294.6L1462.5,1293.0L1474.5,1291.4L1486.4,1289.7L1498.4,1288.0L1498.6,1299.1L1488.4,1312.3L1469.2,1319.8L1452.6,1333.7L1439.2,1343.9L1421.9,1354.0L1420.9,1361.1L1412.5,1374.2L1400.6,1375.8L1388.8,1377.3L1376.9,1378.8L1365.0,1380.2L1353.1,1381.4L1341.1,1382.5L1329.2,1383.6L1317.2,1384.7L1305.2,1385.7L1293.3,1386.6L1281.3,1387.6L1269.3,1388.5L1256.4,1389.5L1243.5,1390.5L1230.5,1391.4L1217.6,1392.3L1204.6,1393.2L1191.7,1394.0L1194.0,1391.3L1195.8,1384.2L1196.4,1374.7L1198.8,1374.7L1199.3,1368.8L1204.1,1367.6L1203.5,1359.3L1207.6,1357.0L1208.8,1352.2L1213.0,1350.1L1210.8,1346.6L1212.4,1340.4L1214.7,1332.1L1216.5,1323.1Z"/>
<path id="MS" fill="#dcfcf2" d="M1191.7,1394.0L1204.6,1393.2L1217.6,1392.3L1230.5,1391.4L1243.5,1390.5L1256.4,1389.5L1269.3,1388.5L1273.4,1393.2L1273.1,1410.0L1272.7,1426.8L1272.4,1443.6L1272.1,1458.3L1271.8,1472.9L1271.5,1487.5L1271.3,1502.1L1270.9,1516.7L1270.6,1531.3L1272.4,1545.3L1274.1,1559.2L1275.8,1573.1L1277.6,1587.0L1279.3,1600.9L1259.3,1603.1L1246.2,1607.5L1244.0,1604.2L1241.8,1606.4L1235.6,1612.9L1224.2,1587.7L1224.9,1576.0L1212.5,1576.8L1200.2,1577.5L1187.9,1578.3L1175.5,1578.9L1163.2,1579.6L1150.9,1580.1L1152.7,1556.9L1162.6,1539.3L1171.4,1525.1L1169.2,1522.9L1175.8,1518.5L1169.2,1508.6L1168.1,1502.0L1164.9,1487.6L1165.0,1483.7L1166.2,1475.4L1163.2,1469.5L1160.3,1461.2L1160.9,1458.2L1165.0,1456.4L1166.8,1450.5L1165.0,1445.8L1165.6,1442.8L1170.9,1439.3L1169.7,1435.1L1172.1,1430.4L1176.8,1424.5L1182.2,1419.7L1182.8,1411.4L1186.3,1404.3L1190.5,1399.6L1191.7,1394.0Z"/>
<path id="AL" fill="#dcfcf2" d="M1269.3,1388.5L1281.3,1387.6L1293.3,1386.6L1305.2,1385.7L1317.2,1384.7L1329.2,1383.6L1341.1,1382.5L1353.1,1381.4L1365.0,1380.2L1368.8,1393.8L1372.6,1407.4L1376.5,1421.0L1380.3,1434.6L1384.2,1448.2L1388.1,1461.7L1392.0,1475.3L1401.6,1499.1L1401.0,1514.0L1398.8,1521.6L1404.2,1534.9L1402.9,1547.0L1408.6,1559.3L1396.0,1560.7L1383.4,1562.1L1370.8,1563.5L1358.2,1564.8L1345.6,1566.0L1333.0,1567.3L1320.3,1568.5L1307.7,1569.6L1308.6,1574.9L1317.4,1583.7L1313.8,1602.1L1308.6,1603.1L1299.8,1598.0L1296.5,1585.9L1293.2,1585.9L1289.9,1599.1L1279.3,1600.9L1277.6,1587.0L1275.8,1573.1L1274.1,1559.2L1272.4,1545.3L1270.6,1531.3L1270.9,1516.7L1271.3,1502.1L1271.5,1487.5L1271.8,1472.9L1272.1,1458.3L1272.4,1443.6L1272.7,1426.8L1273.1,1410.0L1273.4,1393.2L1269.3,1388.5Z"/>
<path id="GA" fill="#9cefd6" d="M1365.0,1380.2L1376.9,1378.8L1388.8,1377.3L1400.6,1375.8L1412.5,1374.2L1423.6,1372.7L1434.7,1371.2L1445.8,1369.6L1456.9,1368.0L1449.9,1382.8L1460.1,1388.4L1475.0,1400.3L1480.0,1406.5L1488.2,1413.1L1496.5,1419.7L1504.7,1426.3L1510.5,1431.2L1512.1,1437.0L1521.2,1442.7L1529.5,1449.3L1534.4,1455.9L1537.7,1466.6L1543.5,1470.8L1549.2,1477.4L1551.7,1487.3L1561.5,1490.4L1552.4,1507.2L1550.2,1530.8L1547.9,1553.8L1526.3,1555.2L1527.0,1573.2L1519.4,1564.6L1506.4,1565.7L1493.5,1566.8L1480.5,1567.8L1467.5,1568.8L1454.6,1569.7L1441.6,1570.6L1428.6,1571.5L1415.7,1572.3L1408.6,1559.3L1402.9,1547.0L1404.2,1534.9L1398.8,1521.6L1401.0,1514.0L1401.6,1499.1L1392.0,1475.3L1388.1,1461.7L1384.2,1448.2L1380.3,1434.6L1376.5,1421.0L1372.6,1407.4L1368.8,1393.8L1365.0,1380.2Z"/>
<path id="FL" fill="#5fc5a4" d="M1313.8,1602.1L1317.4,1583.7L1308.6,1574.9L1307.7,1569.6L1320.3,1568.5L1333.0,1567.3L1345.6,1566.0L1358.2,1564.8L1370.8,1563.5L1383.4,1562.1L1396.0,1560.7L1408.6,1559.3L1415.7,1572.3L1428.6,1571.5L1441.6,1570.6L1454.6,1569.7L1467.5,1568.8L1480.5,1567.8L1493.5,1566.8L1506.4,1565.7L1519.4,1564.6L1527.0,1573.2L1526.3,1555.2L1547.9,1553.8L1551.4,1568.4L1559.1,1588.1L1570.1,1607.9L1583.3,1627.7L1598.7,1646.4L1598.7,1659.6L1609.7,1678.2L1622.9,1700.2L1631.6,1717.8L1633.8,1739.8L1636.0,1764.0L1631.6,1772.7L1629.5,1785.9L1633.8,1787.0L1631.6,1794.7L1616.3,1798.7L1602.0,1801.3L1598.2,1798.7L1598.7,1793.6L1592.1,1782.6L1585.5,1774.9L1574.5,1771.6L1571.2,1772.7L1565.7,1764.0L1562.4,1754.1L1554.7,1747.5L1550.3,1747.5L1548.1,1740.9L1549.2,1731.0L1547.0,1726.6L1543.7,1735.4L1532.7,1720.0L1520.7,1706.8L1529.5,1689.2L1519.6,1683.7L1521.8,1693.6L1518.5,1695.8L1513.0,1689.2L1509.7,1677.1L1513.0,1671.6L1514.1,1656.3L1509.7,1643.1L1504.2,1632.1L1491.0,1627.7L1478.9,1617.8L1476.7,1610.1L1466.8,1601.3L1453.6,1595.8L1442.6,1596.9L1439.3,1604.6L1425.1,1613.4L1407.5,1618.9L1399.8,1610.1L1374.5,1596.9L1356.9,1593.6L1339.3,1594.7L1313.8,1602.1Z"/>
<path id="SC" fill="#95ebd0" d="M1561.5,1490.4L1551.7,1487.3L1549.2,1477.4L1543.5,1470.8L1537.7,1466.6L1534.4,1455.9L1529.5,1449.3L1521.2,1442.7L1512.1,1437.0L1510.5,1431.2L1504.7,1426.3L1496.5,1419.7L1488.2,1413.1L1480.0,1406.5L1475.0,1400.3L1460.1,1388.4L1449.9,1382.8L1456.9,1368.0L1469.3,1361.6L1481.7,1355.2L1531.1,1348.8L1536.0,1351.3L1540.2,1356.2L1543.5,1363.6L1583.8,1357.0L1633.4,1392.7L1626.7,1398.2L1620.1,1406.5L1616.0,1416.4L1615.2,1426.3L1611.9,1431.2L1610.2,1436.2L1605.3,1438.6L1602.0,1444.4L1595.4,1451.0L1590.4,1457.6L1587.1,1460.9L1578.9,1465.0L1573.1,1467.5L1573.1,1475.7L1567.4,1479.8L1561.5,1490.4Z"/>
<path id="NC" fill="#8ce4c7" d="M1412.5,1374.2L1420.9,1361.1L1421.9,1354.0L1439.2,1343.9L1452.6,1333.7L1469.2,1319.8L1488.4,1312.3L1498.6,1299.1L1498.4,1288.0L1509.4,1286.4L1520.4,1284.8L1531.4,1283.1L1542.3,1281.4L1553.3,1279.7L1564.3,1277.9L1575.2,1276.1L1586.2,1274.3L1597.1,1272.4L1608.1,1270.5L1619.0,1268.6L1629.9,1266.6L1640.9,1264.6L1651.8,1262.5L1662.7,1260.4L1673.6,1258.3L1684.5,1256.2L1695.4,1254.0L1706.3,1251.8L1711.6,1264.7L1717.4,1273.8L1710.8,1265.5L1699.2,1267.2L1694.3,1272.1L1680.3,1272.1L1679.5,1275.4L1682.7,1284.5L1694.3,1281.2L1706.6,1277.1L1708.3,1289.5L1709.5,1279.6L1714.1,1277.9L1718.2,1283.7L1719.8,1291.9L1715.7,1295.2L1712.4,1301.0L1709.1,1307.9L1695.9,1308.4L1691.8,1302.3L1689.7,1304.6L1694.3,1312.5L1696.8,1314.5L1695.1,1322.4L1691.0,1325.7L1685.2,1329.0L1689.0,1331.8L1695.9,1326.5L1707.1,1326.5L1701.7,1335.6L1700.1,1339.7L1689.3,1343.0L1681.1,1347.1L1672.9,1353.7L1664.6,1362.0L1658.8,1370.2L1656.4,1378.5L1654.7,1385.9L1646.5,1388.4L1638.2,1390.0L1633.4,1392.7L1583.8,1357.0L1543.5,1363.6L1540.2,1356.2L1536.0,1351.3L1531.1,1348.8L1481.7,1355.2L1469.3,1361.6L1456.9,1368.0L1445.8,1369.6L1434.7,1371.2L1423.6,1372.7L1412.5,1374.2Z"/>
<path id="VA" fill="#7bd8b9" d="M1426.5,1297.7L1438.5,1293.1L1444.6,1286.2L1452.3,1280.0L1453.8,1273.8L1458.5,1267.7L1466.2,1260.0L1473.8,1253.8L1481.6,1246.2L1483.8,1253.8L1489.2,1258.5L1496.9,1260.0L1501.5,1256.9L1506.2,1253.1L1510.0,1256.2L1514.6,1253.1L1521.5,1249.2L1523.1,1245.4L1527.7,1246.2L1532.3,1240.8L1535.4,1243.1L1540.8,1237.7L1543.1,1232.3L1539.2,1228.5L1542.3,1223.1L1547.7,1215.4L1551.5,1206.2L1555.4,1187.7L1563.1,1190.0L1568.5,1190.8L1571.5,1184.6L1575.4,1170.8L1580.0,1172.3L1584.6,1163.8L1588.5,1158.5L1592.3,1150.8L1593.8,1139.2L1613.8,1149.2L1616.0,1139.9L1619.1,1140.4L1625.7,1144.4L1627.7,1148.4L1634.9,1151.0L1641.5,1153.6L1644.2,1151.0L1648.1,1154.3L1644.8,1157.6L1644.2,1162.9L1640.9,1168.1L1638.9,1172.1L1640.2,1178.7L1644.2,1177.1L1650.1,1178.0L1650.8,1182.0L1656.0,1185.3L1661.3,1187.3L1666.6,1189.9L1671.9,1191.9L1679.1,1194.5L1679.1,1199.8L1678.5,1205.7L1667.9,1202.4L1657.4,1194.5L1666.6,1203.1L1678.5,1208.4L1679.1,1218.2L1679.8,1222.9L1677.8,1224.8L1685.1,1230.1L1684.4,1234.1L1675.8,1230.1L1670.5,1228.8L1662.6,1227.5L1671.9,1231.4L1677.1,1235.4L1683.7,1239.3L1689.0,1238.7L1696.9,1236.0L1700.2,1240.7L1706.3,1251.8L1695.4,1254.0L1684.5,1256.2L1673.6,1258.3L1662.7,1260.4L1651.8,1262.5L1640.9,1264.6L1629.9,1266.6L1619.0,1268.6L1608.1,1270.5L1597.1,1272.4L1586.2,1274.3L1575.2,1276.1L1564.3,1277.9L1553.3,1279.7L1542.3,1281.4L1531.4,1283.1L1520.4,1284.8L1509.4,1286.4L1498.4,1288.0L1486.4,1289.7L1474.5,1291.4L1462.5,1293.0L1450.5,1294.6L1438.5,1296.2L1426.5,1297.7ZM1700.2,1184.6L1697.6,1194.5L1694.9,1205.1L1694.3,1214.3L1695.6,1222.2L1697.6,1224.8L1700.9,1222.9L1702.9,1215.6L1704.8,1205.1L1706.8,1197.1L1710.1,1189.9L1712.7,1182.0L1700.2,1184.6Z"/>
<path id="WV" fill="#88e1c2" d="M1453.9,1209.3L1458.5,1207.7L1463.1,1204.6L1463.8,1195.4L1465.4,1187.7L1468.5,1181.5L1472.3,1181.5L1476.9,1175.4L1477.7,1170.8L1481.5,1164.6L1486.2,1159.2L1490.8,1160.0L1496.9,1153.8L1501.5,1147.7L1506.2,1141.5L1506.9,1126.2L1508.5,1115.4L1507.7,1109.2L1506.2,1101.5L1509.8,1097.2L1512.0,1111.1L1514.3,1125.1L1516.6,1139.0L1528.5,1137.1L1540.4,1135.0L1552.3,1133.0L1553.8,1144.6L1556.9,1156.2L1563.1,1149.2L1569.2,1141.5L1575.4,1139.2L1581.5,1134.6L1588.5,1134.6L1592.3,1129.2L1596.9,1126.2L1603.1,1129.2L1609.2,1127.7L1613.1,1133.8L1616.0,1139.9L1613.8,1149.2L1593.8,1139.2L1592.3,1150.8L1588.5,1158.5L1584.6,1163.8L1580.0,1172.3L1575.4,1170.8L1571.5,1184.6L1568.5,1190.8L1563.1,1190.0L1555.4,1187.7L1551.5,1206.2L1547.7,1215.4L1542.3,1223.1L1539.2,1228.5L1543.1,1232.3L1540.8,1237.7L1535.4,1243.1L1532.3,1240.8L1527.7,1246.2L1523.1,1245.4L1521.5,1249.2L1514.6,1253.1L1510.0,1256.2L1506.2,1253.1L1501.5,1256.9L1496.9,1260.0L1489.2,1258.5L1483.8,1253.8L1481.6,1246.2L1473.8,1243.1L1467.7,1238.5L1463.1,1232.3L1457.7,1226.2L1453.8,1220.0L1453.9,1209.3Z"/>
<path id="MD" fill="#48b590" d="M1552.3,1133.0L1562.8,1131.1L1573.4,1129.2L1583.9,1127.3L1594.4,1125.3L1604.9,1123.3L1615.4,1121.3L1625.9,1119.2L1636.4,1117.1L1646.9,1114.9L1657.4,1112.8L1667.8,1110.6L1678.3,1108.3L1682.1,1122.3L1686.0,1136.4L1689.8,1150.4L1693.6,1164.4L1704.9,1162.2L1716.2,1159.9L1714.7,1173.4L1712.7,1182.0L1700.2,1184.6L1692.3,1185.3L1691.6,1174.7L1689.0,1170.8L1683.7,1172.1L1679.8,1176.0L1674.5,1170.8L1671.9,1166.8L1672.5,1162.2L1678.5,1161.5L1679.1,1158.9L1671.9,1156.3L1669.9,1152.3L1671.9,1145.7L1671.9,1140.4L1669.2,1136.5L1669.9,1132.5L1671.9,1127.3L1674.5,1122.6L1673.8,1118.7L1671.9,1118.0L1670.5,1122.0L1668.6,1125.9L1664.0,1129.2L1662.6,1133.2L1658.0,1135.2L1659.3,1136.5L1663.3,1137.8L1666.6,1139.1L1663.3,1145.7L1662.0,1152.3L1664.0,1160.2L1666.6,1165.5L1668.6,1173.4L1670.5,1177.4L1673.2,1181.3L1674.5,1185.3L1669.9,1185.3L1665.3,1182.6L1661.3,1184.0L1657.4,1180.7L1652.1,1179.3L1650.1,1178.0L1644.2,1177.1L1640.2,1178.7L1638.9,1172.1L1640.9,1168.1L1644.2,1162.9L1644.8,1157.6L1648.1,1154.3L1644.2,1151.0L1641.5,1153.6L1634.9,1151.0L1627.7,1148.4L1625.7,1144.4L1619.1,1140.4L1616.0,1139.9L1613.1,1133.8L1609.2,1127.7L1603.1,1129.2L1596.9,1126.2L1592.3,1129.2L1588.5,1134.6L1581.5,1134.6L1575.4,1139.2L1569.2,1141.5L1563.1,1149.2L1556.9,1156.2L1553.8,1144.6L1552.3,1133.0Z"/>
<path id="DE" fill="#4db893" d="M1678.3,1108.3L1683.7,1102.0L1690.4,1101.9L1685.7,1110.1L1689.0,1116.7L1693.6,1123.3L1698.2,1131.2L1702.9,1137.8L1708.8,1144.4L1712.1,1147.0L1714.7,1154.9L1716.2,1159.9L1704.9,1162.2L1693.6,1164.4L1689.8,1150.4L1686.0,1136.4L1682.1,1122.3L1678.3,1108.3Z"/>
<path id="NJ" fill="#45b18b" d="M1698.5,1026.5L1728.6,1035.8L1728.8,1036.4L1726.6,1052.3L1722.0,1057.6L1723.3,1061.5L1722.4,1061.6L1731.9,1064.2L1733.8,1075.4L1734.5,1084.6L1735.2,1095.2L1733.8,1099.6L1729.9,1111.4L1722.6,1122.0L1719.3,1132.5L1715.4,1129.9L1712.7,1126.6L1703.5,1125.3L1695.6,1122.0L1690.3,1118.0L1687.0,1109.5L1690.4,1101.9L1692.3,1099.6L1698.2,1095.6L1702.9,1086.4L1710.8,1081.1L1696.3,1071.9L1693.6,1065.3L1689.0,1063.5L1691.0,1053.0L1688.4,1046.4L1693.0,1037.1L1698.5,1026.5Z"/>
<path id="PA" fill="#4ab48f" d="M1509.8,1097.2L1507.3,1082.0L1504.8,1066.8L1502.3,1051.6L1499.8,1036.4L1510.1,1030.1L1522.7,1019.0L1524.9,1031.2L1535.3,1029.4L1545.8,1027.5L1556.2,1025.6L1566.6,1023.7L1577.1,1021.8L1587.5,1019.8L1597.9,1017.7L1608.3,1015.7L1618.7,1013.6L1629.1,1011.4L1639.5,1009.3L1649.9,1007.1L1660.2,1004.8L1670.6,1002.6L1677.1,1006.8L1683.1,1012.1L1684.4,1017.4L1690.3,1022.6L1698.5,1026.5L1693.0,1037.1L1688.4,1046.4L1691.0,1053.0L1689.0,1063.5L1693.6,1065.3L1696.3,1071.9L1710.8,1081.1L1702.9,1086.4L1698.2,1095.6L1692.3,1099.6L1690.4,1101.9L1683.7,1102.0L1678.3,1108.3L1667.8,1110.6L1657.4,1112.8L1646.9,1114.9L1636.4,1117.1L1625.9,1119.2L1615.4,1121.3L1604.9,1123.3L1594.4,1125.3L1583.9,1127.3L1573.4,1129.2L1562.8,1131.1L1552.3,1133.0L1540.4,1135.0L1528.5,1137.1L1516.6,1139.0L1514.3,1125.1L1512.0,1111.1L1509.8,1097.2Z"/>
<path id="NY" fill="#66c9a9" d="M1522.7,1019.0L1532.9,1010.3L1541.8,998.5L1547.7,989.6L1542.7,980.7L1537.8,970.8L1549.7,963.8L1561.5,960.9L1573.4,958.9L1581.3,958.9L1586.3,961.3L1595.2,957.9L1605.1,956.5L1613.0,952.0L1618.9,945.1L1626.8,939.1L1624.8,929.2L1625.8,921.3L1619.9,918.4L1618.5,911.4L1624.8,903.5L1630.8,897.6L1636.7,885.7L1644.6,873.8L1652.5,866.9L1666.4,863.0L1659.8,864.0L1670.8,861.3L1681.8,858.7L1692.7,856.0L1703.7,853.2L1707.9,866.0L1712.9,886.1L1711.5,897.5L1715.8,907.5L1722.9,919.0L1727.2,933.3L1730.7,953.2L1730.8,969.8L1730.8,986.3L1737.8,1018.7L1740.7,1022.9L1733.8,1029.9L1735.4,1032.3L1736.2,1035.8L1733.8,1043.1L1731.2,1047.7L1729.6,1043.7L1728.8,1036.4L1728.6,1035.8L1698.5,1026.5L1690.3,1022.6L1684.4,1017.4L1683.1,1012.1L1677.1,1006.8L1670.6,1002.6L1660.2,1004.8L1649.9,1007.1L1639.5,1009.3L1629.1,1011.4L1618.7,1013.6L1608.3,1015.7L1597.9,1017.7L1587.5,1019.8L1577.1,1021.8L1566.6,1023.7L1556.2,1025.6L1545.8,1027.5L1535.3,1029.4L1524.9,1031.2L1522.7,1019.0Z"/>
<path id="CT" fill="#0f6b4e" d="M1730.8,986.3L1742.0,983.9L1753.2,981.4L1764.3,978.9L1775.5,976.3L1786.6,973.7L1790.1,987.1L1793.6,1000.4L1792.8,1005.4L1778.7,1010.8L1769.5,1013.4L1757.6,1017.4L1749.7,1025.3L1739.1,1033.2L1735.4,1032.3L1733.8,1029.9L1740.7,1022.9L1737.8,1018.7L1730.8,986.3Z"/>
<path id="RI" fill="#249a73" d="M1786.6,973.7L1800.4,971.2L1803.1,977.8L1805.7,981.1L1815.0,991.0L1805.7,981.1L1804.0,984.4L1805.1,992.3L1804.4,998.9L1792.8,1005.4L1793.6,1000.4L1790.1,987.1L1786.6,973.7Z"/>
<path id="MA" fill="#0a6145" d="M1730.7,953.2L1743.9,950.4L1757.1,947.6L1793.1,939.0L1803.1,929.0L1808.3,927.5L1816.3,936.9L1815.6,938.9L1811.6,941.5L1809.7,944.8L1809.0,950.8L1811.0,954.1L1816.3,954.1L1821.5,959.3L1823.5,964.6L1828.1,968.6L1830.8,973.2L1836.7,973.8L1843.3,969.9L1847.9,967.9L1851.2,971.2L1830.1,984.4L1829.1,977.1L1826.2,979.1L1822.9,984.4L1820.2,987.7L1815.6,989.0L1813.6,986.4L1811.6,984.4L1815.0,991.0L1805.7,981.1L1803.1,977.8L1800.4,971.2L1786.6,973.7L1775.5,976.3L1764.3,978.9L1753.2,981.4L1742.0,983.9L1730.8,986.3L1730.8,969.8L1730.7,953.2Z"/>
<path id="VT" fill="#147755" d="M1703.7,853.2L1713.3,850.8L1723.0,848.5L1732.6,846.0L1742.2,843.6L1751.8,841.1L1761.5,838.6L1763.0,843.8L1760.9,848.9L1764.4,854.6L1765.2,863.2L1758.0,871.0L1751.6,876.0L1754.4,877.5L1753.0,896.1L1750.8,909.0L1753.7,933.3L1752.3,943.3L1757.1,947.6L1743.9,950.4L1730.7,953.2L1727.2,933.3L1722.9,919.0L1715.8,907.5L1711.5,897.5L1712.9,886.1L1707.9,866.0L1703.7,853.2Z"/>
<path id="NH" fill="#249a73" d="M1761.5,838.6L1763.0,827.4L1765.9,823.8L1771.1,822.3L1794.5,896.1L1798.8,907.5L1804.5,913.3L1809.8,917.6L1808.3,927.5L1803.1,929.0L1793.1,939.0L1757.1,947.6L1752.3,943.3L1753.7,933.3L1750.8,909.0L1753.0,896.1L1754.4,877.5L1751.6,876.0L1758.0,871.0L1765.2,863.2L1764.4,854.6L1760.9,848.9L1763.0,843.8L1761.5,838.6Z"/>
<path id="ME" fill="#45b18b" d="M1771.1,822.3L1778.7,819.5L1780.2,811.6L1783.0,803.1L1789.5,790.2L1787.3,784.5L1786.2,770.1L1789.5,764.4L1788.1,750.1L1793.1,735.8L1801.6,712.2L1807.4,712.6L1808.8,719.3L1814.5,720.1L1823.1,713.6L1832.4,708.6L1841.7,711.5L1849.6,717.2L1851.7,724.3L1866.8,775.9L1878.9,777.3L1879.6,783.0L1883.2,788.7L1886.1,795.2L1891.8,793.3L1896.8,795.9L1902.9,802.9L1901.1,815.2L1894.7,818.8L1887.5,825.2L1880.4,831.0L1873.9,837.4L1870.3,844.6L1864.6,841.7L1861.8,852.4L1856.0,848.1L1851.7,837.4L1849.6,847.4L1847.4,857.4L1850.0,861.0L1846.0,866.0L1840.3,866.7L1833.8,874.6L1826.0,880.3L1817.4,890.4L1814.5,897.5L1814.5,901.8L1811.7,906.1L1810.9,915.4L1809.8,917.6L1804.5,913.3L1798.8,907.5L1794.5,896.1L1771.1,822.3Z"/>
<path id="AK" fill="#74d4b5" d="M246.5,1571.3L233.0,1566.1L225.7,1568.2L216.3,1567.1L203.7,1564.0L195.4,1563.0L187.0,1565.1L180.8,1559.8L172.4,1559.8L166.2,1555.7L158.8,1552.1L153.6,1557.7L143.2,1559.8L133.8,1565.1L126.5,1568.2L122.3,1574.5L120.2,1580.7L111.9,1584.9L102.5,1584.3L99.3,1591.2L105.6,1598.5L111.9,1606.8L116.0,1613.1L123.4,1616.2L126.5,1623.5L127.5,1628.7L120.2,1631.9L109.8,1629.8L109.8,1622.5L103.5,1621.8L93.1,1625.6L81.6,1631.9L88.9,1638.1L91.0,1642.3L88.9,1648.6L97.3,1652.7L107.7,1653.8L119.2,1652.7L126.5,1651.7L126.5,1656.9L122.3,1661.1L126.5,1665.3L123.4,1671.5L114.0,1673.6L105.6,1677.8L100.4,1675.3L93.1,1684.1L86.8,1690.3L82.6,1696.6L85.8,1704.9L86.8,1713.3L89.9,1723.7L95.2,1727.9L103.5,1726.9L110.8,1732.1L111.9,1738.4L108.7,1745.7L109.8,1749.8L117.1,1745.7L124.4,1745.7L130.7,1748.8L132.7,1755.1L138.0,1751.9L145.3,1750.9L146.3,1757.1L143.2,1765.5L139.0,1773.8L133.8,1780.1L126.5,1783.2L118.1,1788.5L111.9,1794.7L103.5,1793.7L98.3,1798.9L92.0,1805.2L86.8,1806.2L80.5,1805.2L73.2,1810.4L74.3,1813.5L84.7,1810.4L93.1,1807.3L100.4,1803.1L107.7,1799.9L114.0,1798.9L122.3,1795.8L129.6,1792.6L135.9,1788.5L136.9,1783.2L145.3,1778.0L153.6,1772.8L158.8,1767.6L166.2,1761.3L172.4,1755.1L177.6,1748.8L174.5,1744.6L178.7,1738.4L184.9,1732.1L189.1,1723.7L194.3,1717.5L199.6,1712.3L204.8,1709.1L203.7,1715.4L199.6,1718.5L196.4,1723.7L193.3,1730.0L191.2,1737.3L190.2,1743.6L195.4,1741.5L201.6,1736.3L209.0,1731.0L218.4,1729.0L222.5,1731.0L225.7,1725.8L220.4,1723.7L219.4,1717.5L226.7,1713.3L233.0,1717.5L228.8,1722.7L237.1,1718.5L243.4,1721.6L251.8,1724.8L260.1,1722.7L270.5,1722.7L276.8,1724.2L285.2,1721.6L289.3,1726.9L297.7,1729.0L306.0,1733.1L312.3,1739.4L320.7,1746.7L326.9,1753.0L333.2,1759.2L339.5,1766.5L345.7,1767.6L354.1,1772.8L359.3,1778.0L365.5,1784.3L370.8,1783.2L372.9,1775.9L374.9,1769.7L380.2,1775.9L384.3,1777.0L386.4,1769.7L384.3,1764.5L382.3,1757.1L374.9,1755.1L366.6,1755.1L358.2,1753.0L349.9,1744.6L341.5,1736.3L333.2,1726.9L324.8,1720.6L320.7,1715.4L316.5,1717.5L314.4,1723.7L309.2,1731.0L304.0,1730.0L295.6,1724.8L289.3,1719.6L287.3,1713.3L281.0,1717.5L273.7,1717.5ZM48.2,1658.0L51.3,1656.9L53.4,1660.1L58.6,1659.0L61.8,1664.2L68.0,1667.4L64.9,1669.0L60.7,1669.5L56.5,1664.2L51.3,1662.1L48.2,1660.1ZM68.4,1718.5L73.2,1717.5L78.5,1717.1L81.6,1719.6L79.5,1724.8L75.3,1725.8L71.2,1722.7ZM168.2,1773.8L172.4,1768.6L178.7,1765.5L184.9,1766.5L187.0,1770.7L183.9,1775.9L177.6,1780.1L173.5,1782.2L169.3,1780.1ZM179.7,1761.3L184.9,1756.1L190.2,1758.2L186.0,1762.4L181.8,1764.5ZM30.4,1829.2L35.7,1824.0L40.9,1821.9L41.9,1825.0L36.7,1827.1ZM43.0,1825.0L50.3,1821.9L52.4,1816.6L56.5,1817.7L58.6,1820.8L53.4,1824.0L47.1,1826.0ZM60.7,1816.6L63.8,1815.2L63.4,1817.3ZM166.8,1788.0L172.4,1786.4L172.0,1788.5Z"/>
<path id="HI" fill="#78d8b9" d="M604.0,1768.8L609.9,1772.7L617.8,1776.0L625.7,1779.3L632.3,1784.6L636.3,1789.9L638.9,1796.5L646.2,1801.1L642.9,1805.7L638.9,1809.7L632.3,1813.0L625.7,1813.6L617.8,1818.9L613.8,1823.5L609.9,1828.8L604.0,1825.5L600.0,1822.9L599.3,1818.2L600.7,1810.3L599.3,1803.7L596.0,1797.1L593.4,1791.6L598.0,1786.6L602.6,1779.3L600.0,1774.7ZM565.7,1735.8L568.4,1734.2L572.3,1735.8L574.3,1739.1L578.2,1738.1L583.5,1737.5L587.5,1740.4L594.7,1743.7L593.4,1750.3L587.5,1751.6L579.6,1753.9L576.3,1752.3L575.6,1745.7L571.6,1743.3L567.7,1741.8L565.3,1738.5ZM549.9,1739.4L555.8,1738.9L560.0,1742.8L554.5,1746.4L551.9,1743.1ZM542.0,1724.9L548.6,1725.9L555.2,1727.3L557.4,1731.9L551.9,1730.2L545.3,1729.2L539.7,1729.9ZM498.9,1709.1L504.4,1708.1L510.7,1702.9L515.6,1710.1L516.9,1714.7L524.2,1720.7L518.2,1722.6L514.9,1721.3L505.1,1720.9L501.1,1713.4ZM434.2,1687.4L436.5,1682.7L441.8,1679.5L452.3,1679.5L454.5,1683.1L453.0,1691.0L448.4,1694.5L441.8,1693.6L437.8,1690.6Z"/>
<path fill="#4ab48f" stroke-width="0.4" d="M1189.7,800.6L1198.4,793.2L1208.2,787.0L1205.8,793.2L1195.9,800.6Z"/>
<path fill="#66c9a9" stroke-width="0.4" d="M1733.8,1043.7L1736.5,1037.8L1744.4,1035.8L1752.3,1033.8L1754.9,1031.2L1764.2,1028.6L1772.1,1025.3L1779.3,1019.3L1787.3,1022.0L1782.6,1027.3L1774.7,1033.8L1765.5,1040.4L1754.9,1046.4L1744.4,1050.3L1733.8,1054.9L1729.9,1055.6L1728.6,1053.0L1731.9,1049.0ZM1722.0,1057.6L1724.6,1053.6L1727.5,1052.7L1725.9,1056.9L1723.3,1060.2Z"/>
<path fill="#249a73" stroke-width="0.4" d="M1809.0,992.3L1811.0,985.7L1814.9,990.3Z"/>
<path fill="#0a6145" stroke-width="0.4" d="M1827.5,993.6L1832.7,987.7L1838.0,991.0Z"/>
<path fill="#5fc5a4" stroke-width="0.4" d="M1575.6,1831.0L1588.8,1818.9L1596.5,1821.5L1596.5,1824.4L1581.1,1829.9Z"/>
<path fill="#50ba96" stroke-width="0.4" d="M79.4,1330.6L86.4,1331.3L83.4,1336.3Z"/>
<path fill="#28a178" stroke-width="0.4" d="M162.1,660.2L167.4,657.5L172.8,656.6L176.0,659.3L174.6,663.8L169.2,666.4L164.8,665.2Z"/>
<path fill="none" stroke-width="1.2" d="M154.1,706.4L162.1,701.9L171.4,696.1"/>
<path fill="none" stroke-width="1.2" d="M929.3,1791.8L923.5,1768.6L923.5,1754.7L926.5,1745.8L935.4,1728.0L943.3,1718.1L949.2,1712.7"/>
<path fill="none" stroke-width="1.2" d="M1017.0,1667.5L1022.4,1663.7L1026.4,1661.3"/>
<path fill="none" stroke-width="1.2" d="M323.8,1726.9L331.1,1738.4L337.4,1748.8L343.6,1759.2L352.0,1766.5"/>
<path fill="none" stroke-width="1.2" d="M332.1,1736.3L339.5,1748.8L342.6,1757.1L341.5,1765.5"/>
<path fill="none" stroke-width="1.2" d="M315.4,1734.2L322.7,1740.4L330.1,1745.7L333.2,1753.0"/>
<path fill="none" stroke-width="1.2" d="M352.0,1759.2L358.2,1761.3L364.5,1769.7"/>
<path fill="#fff" stroke="none" d="M914.6,1752.7L919.1,1749.6L923.2,1751.0L923.2,1754.7L918.6,1755.2Z"/>
<path fill="#fff" stroke="none" d="M920.4,1727.0L934.4,1724.3L929.6,1734.7Z"/>
<path fill="#fff" stroke="none" d="M932.4,1716.6L938.8,1712.5L942.1,1715.7L937.9,1718.6Z"/>
<path fill="#fff" stroke="none" d="M949.2,1702.5L955.4,1706.8L948.0,1710.0Z"/>
</g><g class="lab">
<defs><filter id="bl" x="-20%" y="-20%" width="140%" height="140%"><feGaussianBlur stdDeviation="2.5"/></filter></defs>
<rect x="822.4" y="940.6" width="52.3" height="28.0" fill="#fff"/>
<text class="lab glow" filter="url(#bl)" x="848.6" y="969.6">SD</text><text class="lab halo" x="848.6" y="969.6">SD</text><text class="lab" x="848.6" y="969.6">SD</text>
<rect x="1157.0" y="935.7" width="45.3" height="28.0" fill="#fff"/>
<text class="lab glow" filter="url(#bl)" x="1179.7" y="964.7">WI</text><text class="lab halo" x="1179.7" y="964.7">WI</text><text class="lab" x="1179.7" y="964.7">WI</text>
<rect x="402.2" y="1150.0" width="50.0" height="28.0" fill="#fff"/>
<text class="lab glow" filter="url(#bl)" x="427.2" y="1179.0">UT</text><text class="lab halo" x="427.2" y="1179.0">UT</text><text class="lab" x="427.2" y="1179.0">UT</text>
<rect x="1483.8" y="1178.7" width="61.7" height="28.0" fill="#fff"/>
<text class="lab glow" filter="url(#bl)" x="1514.6" y="1207.7">WV</text><text class="lab halo" x="1514.6" y="1207.7">WV</text><text class="lab" x="1514.6" y="1207.7">WV</text>
<rect x="1073.9" y="1232.0" width="61.7" height="28.0" fill="#fff"/>
<text class="lab glow" filter="url(#bl)" x="1104.7" y="1261.0">MO</text><text class="lab halo" x="1104.7" y="1261.0">MO</text><text class="lab" x="1104.7" y="1261.0">MO</text>
<rect x="1355.2" y="1254.9" width="50.0" height="28.0" fill="#fff"/>
<text class="lab glow" filter="url(#bl)" x="1380.2" y="1283.9">KY</text><text class="lab halo" x="1380.2" y="1283.9">KY</text><text class="lab" x="1380.2" y="1283.9">KY</text>
<rect x="355.0" y="1364.0" width="47.7" height="28.0" fill="#fff"/>
<text class="lab glow" filter="url(#bl)" x="378.8" y="1393.0">AZ</text><text class="lab halo" x="378.8" y="1393.0">AZ</text><text class="lab" x="378.8" y="1393.0">AZ</text>
<rect x="1087.3" y="1383.5" width="52.3" height="28.0" fill="#fff"/>
<text class="lab glow" filter="url(#bl)" x="1113.5" y="1412.5">AR</text><text class="lab halo" x="1113.5" y="1412.5">AR</text><text class="lab" x="1113.5" y="1412.5">AR</text>
<rect x="1300.5" y="1459.7" width="45.4" height="28.0" fill="#fff"/>
<text class="lab glow" filter="url(#bl)" x="1323.2" y="1488.7">AL</text><text class="lab halo" x="1323.2" y="1488.7">AL</text><text class="lab" x="1323.2" y="1488.7">AL</text>
<rect x="1190.7" y="1503.3" width="57.0" height="28.0" fill="#fff"/>
<text class="lab glow" filter="url(#bl)" x="1219.2" y="1532.3">MS</text><text class="lab halo" x="1219.2" y="1532.3">MS</text><text class="lab" x="1219.2" y="1532.3">MS</text>
<rect x="1093.2" y="1541.1" width="45.4" height="28.0" fill="#fff"/>
<text class="lab glow" filter="url(#bl)" x="1115.9" y="1570.1">LA</text><text class="lab halo" x="1115.9" y="1570.1">LA</text><text class="lab" x="1115.9" y="1570.1">LA</text>
</g></svg>
<p class="ln n" id="n1" style="top:1894.9px;left:16.5px;font-size:36px;line-height:43px;letter-spacing:0.559px">Survey conducted 6/8/2022 to 7/6/2022. Total surveyed: 24,141. Data on state policies from the New York Times,</p>
<p class="ln n" id="n2" style="top:1938.8px;left:16.5px;font-size:36px;line-height:43px;letter-spacing:0.069px">PBS and ABC News as of July 19, 2022.</p>
<p class="ln f" id="f1" style="top:1998.0px;left:14.5px;font-size:33px;line-height:40px;letter-spacing:0.422px">Map: The Conversation, CC-BY-ND <span style="font-size:.6em;vertical-align:.22em">•</span> Source: The COVID-19 Consortium for Understanding the Public's Policy Preferences</p>
<p class="ln f" id="f2" style="top:2039.1px;left:17.5px;font-size:33px;line-height:40px;letter-spacing:0.632px">Across States (A joint project of Northeastern University, Harvard University, Rutgers University, and Northwestern</p>
<p class="ln f" id="f3" style="top:2079.7px;left:15.5px;font-size:33px;line-height:40px;letter-spacing:0.700px">University)</p>
</body></html>
